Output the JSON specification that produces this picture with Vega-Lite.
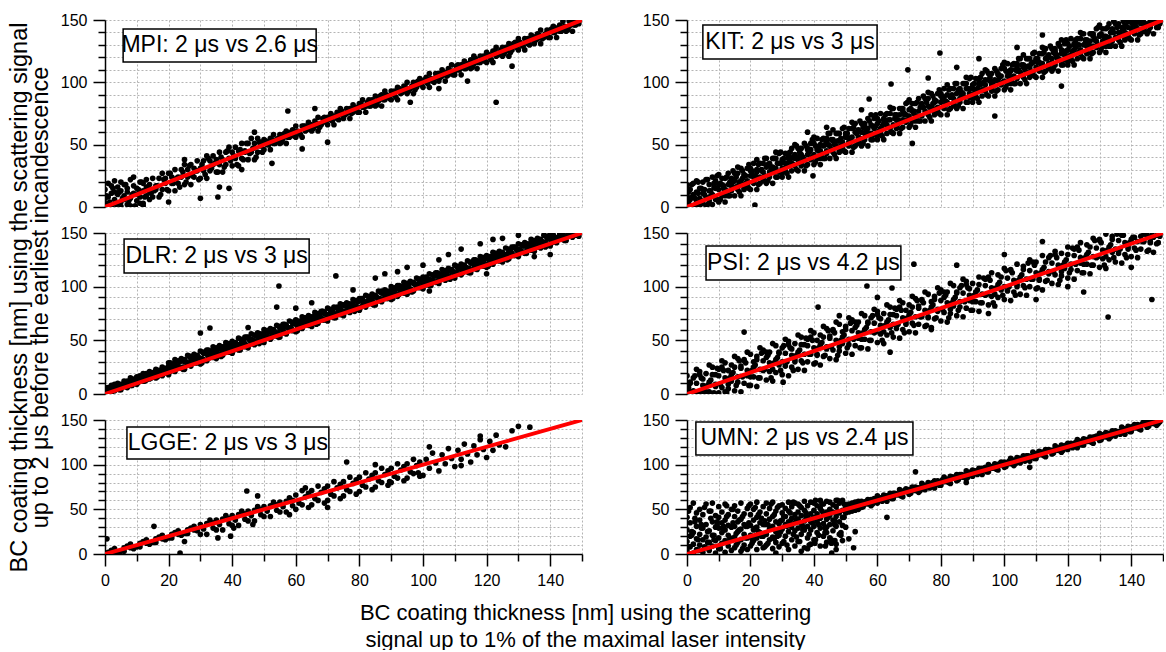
{
"$schema": "https://vega.github.io/schema/vega-lite/v6.json",
"padding": {"left": 7, "top": 12, "right": 0, "bottom": 0},
"columns": 2,
"spacing": {"row": 26, "column": 105},
"bounds": "flush",
"align": "each",
"datasets": {
"diag": [{"x":0,"y":0},{"x":150,"y":150}],
"mpi": [{"x":0,"y":3},{"x":0,"y":14},{"x":0,"y":7},{"x":1,"y":8},{"x":1,"y":19},{"x":1,"y":1},{"x":2,"y":1},{"x":2,"y":11},{"x":2,"y":17},{"x":3,"y":6},{"x":3,"y":21},{"x":3,"y":12},{"x":4,"y":10},{"x":4,"y":16},{"x":4,"y":3},{"x":5,"y":4},{"x":5,"y":13},{"x":5,"y":20},{"x":6,"y":9},{"x":6,"y":18},{"x":6,"y":6},{"x":7,"y":2},{"x":7,"y":12},{"x":7,"y":15},{"x":8,"y":7},{"x":8,"y":22},{"x":8,"y":1},{"x":9,"y":11},{"x":9,"y":17},{"x":9,"y":24},{"x":10,"y":5},{"x":10,"y":15},{"x":10,"y":10},{"x":11,"y":8},{"x":11,"y":20},{"x":11,"y":3},{"x":12,"y":3},{"x":12,"y":13},{"x":12,"y":19},{"x":13,"y":9},{"x":13,"y":22},{"x":13,"y":16},{"x":14,"y":12},{"x":14,"y":18},{"x":14,"y":6},
{"x":15,"y":8},{"x":15,"y":23},{"x":16,"y":14},{"x":16,"y":17},{"x":17,"y":8},{"x":17,"y":23},{"x":18,"y":14},{"x":18,"y":27},{"x":19,"y":19},{"x":19,"y":23},{"x":20,"y":13},{"x":20,"y":27},{"x":21,"y":19},{"x":21,"y":24},{"x":22,"y":13},{"x":22,"y":30},{"x":23,"y":19},{"x":23,"y":24},{"x":24,"y":24},{"x":24,"y":30},{"x":25,"y":18},{"x":25,"y":34},{"x":26,"y":24},{"x":26,"y":30},{"x":27,"y":18},{"x":27,"y":34},{"x":28,"y":24},{"x":28,"y":31},{"x":29,"y":29},{"x":29,"y":37},{"x":30,"y":23},{"x":30,"y":31},{"x":31,"y":29},{"x":31,"y":37},{"x":32,"y":23},{"x":32,"y":41},{"x":33,"y":29},{"x":33,"y":37},{"x":34,"y":34},{"x":34,"y":41},{"x":35,"y":28},{"x":35,"y":38},{"x":36,"y":34},{"x":36,"y":44},{"x":37,"y":28},{"x":37,"y":38},{"x":38,"y":34},{"x":38,"y":44},{"x":39,"y":39},{"x":39,"y":48},{"x":40,"y":33},{"x":40,"y":44},{"x":41,"y":39},{"x":41,"y":48},{"x":42,"y":33},{"x":42,"y":45},{"x":43,"y":39},{"x":43,"y":51},{"x":44,"y":44},{"x":44,"y":45},{"x":45,"y":38},{"x":45,"y":51},{"x":46,"y":44},{"x":46,"y":55},{"x":47,"y":38},{"x":47,"y":51},{"x":48,"y":44},{"x":48,"y":55},{"x":49,"y":49},{"x":49,"y":52},
{"x":50,"y":46},{"x":50,"y":54},{"x":51,"y":50},{"x":51,"y":52},{"x":52,"y":46},{"x":52,"y":55},{"x":53,"y":51},{"x":53,"y":58},{"x":54,"y":54},{"x":54,"y":53},{"x":55,"y":51},{"x":55,"y":58},{"x":56,"y":55},{"x":56,"y":58},{"x":57,"y":51},{"x":57,"y":61},{"x":58,"y":56},{"x":58,"y":59},{"x":59,"y":59},{"x":59,"y":62},{"x":60,"y":56},{"x":60,"y":65},{"x":61,"y":60},{"x":61,"y":60},{"x":62,"y":56},{"x":62,"y":65},{"x":63,"y":61},{"x":63,"y":65},{"x":64,"y":64},{"x":64,"y":68},{"x":65,"y":61},{"x":65,"y":66},{"x":66,"y":65},{"x":66,"y":69},{"x":67,"y":61},{"x":67,"y":72},{"x":68,"y":66},{"x":68,"y":67},{"x":69,"y":69},{"x":69,"y":72},{"x":70,"y":66},{"x":70,"y":72},{"x":71,"y":70},{"x":71,"y":75},{"x":72,"y":66},{"x":72,"y":73},{"x":73,"y":71},{"x":73,"y":76},{"x":74,"y":74},{"x":74,"y":79},{"x":75,"y":71},{"x":75,"y":74},{"x":76,"y":75},{"x":76,"y":79},{"x":77,"y":71},{"x":77,"y":79},{"x":78,"y":76},{"x":78,"y":82},{"x":79,"y":79},{"x":79,"y":80},{"x":80,"y":76},{"x":80,"y":83},{"x":81,"y":80},{"x":81,"y":86},{"x":82,"y":76},{"x":82,"y":81},{"x":83,"y":81},{"x":83,"y":86},{"x":84,"y":84},{"x":84,"y":86},{"x":85,"y":81},{"x":85,"y":89},{"x":86,"y":85},{"x":86,"y":87},{"x":87,"y":81},{"x":87,"y":90},{"x":88,"y":86},{"x":88,"y":93},{"x":89,"y":89},{"x":89,"y":88},{"x":90,"y":86},{"x":90,"y":93},{"x":91,"y":90},{"x":91,"y":93},{"x":92,"y":86},{"x":92,"y":96},{"x":93,"y":91},{"x":93,"y":94},{"x":94,"y":94},{"x":94,"y":97},{"x":95,"y":91},{"x":95,"y":100},{"x":96,"y":95},{"x":96,"y":95},{"x":97,"y":91},{"x":97,"y":100},{"x":98,"y":96},{"x":98,"y":100},{"x":99,"y":99},{"x":99,"y":103},
{"x":100,"y":96},{"x":100,"y":101},{"x":101,"y":100},{"x":101,"y":104},{"x":102,"y":96},{"x":102,"y":107},{"x":103,"y":101},{"x":103,"y":102},{"x":104,"y":104},{"x":104,"y":107},{"x":105,"y":101},{"x":105,"y":107},{"x":106,"y":105},{"x":106,"y":110},{"x":107,"y":101},{"x":107,"y":108},{"x":108,"y":106},{"x":108,"y":111},{"x":109,"y":109},{"x":109,"y":114},{"x":110,"y":106},{"x":110,"y":109},{"x":111,"y":110},{"x":111,"y":114},{"x":112,"y":106},{"x":112,"y":114},{"x":113,"y":111},{"x":113,"y":117},{"x":114,"y":114},{"x":114,"y":115},{"x":115,"y":111},{"x":115,"y":118},{"x":116,"y":115},{"x":116,"y":121},{"x":117,"y":111},{"x":117,"y":116},{"x":118,"y":116},{"x":118,"y":121},{"x":119,"y":119},{"x":119,"y":121},{"x":120,"y":116},{"x":120,"y":124},{"x":121,"y":120},{"x":121,"y":122},{"x":122,"y":116},{"x":122,"y":125},{"x":123,"y":121},{"x":123,"y":128},{"x":124,"y":124},{"x":124,"y":123},{"x":125,"y":121},{"x":125,"y":128},{"x":126,"y":125},{"x":126,"y":128},{"x":127,"y":121},{"x":127,"y":131},{"x":128,"y":126},{"x":128,"y":129},{"x":129,"y":129},{"x":129,"y":132},{"x":130,"y":126},{"x":130,"y":135},{"x":131,"y":130},{"x":131,"y":130},{"x":132,"y":126},{"x":132,"y":135},{"x":133,"y":131},{"x":133,"y":135},{"x":134,"y":134},{"x":134,"y":138},{"x":135,"y":131},{"x":135,"y":136},{"x":136,"y":135},{"x":136,"y":139},{"x":137,"y":131},{"x":137,"y":142},{"x":138,"y":136},{"x":138,"y":137},{"x":139,"y":139},{"x":139,"y":142},{"x":140,"y":136},{"x":140,"y":142},{"x":141,"y":140},{"x":141,"y":145},{"x":142,"y":136},{"x":142,"y":143},{"x":143,"y":141},{"x":143,"y":146},{"x":144,"y":144},{"x":144,"y":149},{"x":145,"y":141},{"x":145,"y":144},{"x":146,"y":145},{"x":146,"y":149},{"x":147,"y":141},{"x":147,"y":149},{"x":148,"y":146},{"x":148,"y":148},{"x":149,"y":149},{"x":149,"y":147},
{"x":30,"y":7},{"x":35.5,"y":8},{"x":36,"y":16},{"x":39,"y":15},{"x":43,"y":30},{"x":52.5,"y":35},{"x":57.5,"y":77},{"x":62,"y":46.6},{"x":70,"y":52},{"x":96,"y":84},{"x":114,"y":101},{"x":123,"y":84},{"x":128,"y":113},{"x":5,"y":0.5},{"x":12,"y":1},{"x":20,"y":4},{"x":25,"y":38},{"x":47,"y":60},{"x":66,"y":79},{"x":105,"y":95},
{"x":0.5,"y":9},{"x":1.5,"y":4},{"x":2.5,"y":15},{"x":3.5,"y":2},{"x":4.5,"y":12},{"x":5.5,"y":7},{"x":6.5,"y":18},{"x":7.5,"y":5},{"x":8.5,"y":10},{"x":9.5,"y":1},{"x":10.5,"y":14},{"x":11.5,"y":20},{"x":12.5,"y":8},{"x":13.5,"y":16},{"x":14.5,"y":11},{"x":15.5,"y":13},{"x":16.5,"y":17},{"x":17.5,"y":10},{"x":18.5,"y":22},{"x":19.5,"y":14},{"x":20.5,"y":27},{"x":21.5,"y":19},{"x":22.5,"y":23},{"x":23.5,"y":16},{"x":24.5,"y":28},{"x":25.5,"y":20},{"x":26.5,"y":33},{"x":27.5,"y":25},{"x":28.5,"y":29},{"x":29.5,"y":22},{"x":30.5,"y":34},{"x":31.5,"y":26},{"x":32.5,"y":39},{"x":33.5,"y":31},{"x":34.5,"y":35},{"x":35.5,"y":28},{"x":36.5,"y":40},{"x":37.5,"y":32},{"x":38.5,"y":45},{"x":39.5,"y":37},{"x":40.5,"y":41},{"x":41.5,"y":34},{"x":42.5,"y":46},{"x":43.5,"y":38},{"x":44.5,"y":51},{"x":45.5,"y":43},{"x":46.5,"y":47},{"x":47.5,"y":40},{"x":48.5,"y":52},{"x":49.5,"y":44},{"x":50.5,"y":53},{"x":51.5,"y":50},{"x":52.5,"y":54},{"x":53.5,"y":51},{"x":54.5,"y":55},{"x":55.5,"y":52},{"x":56.5,"y":59},{"x":57.5,"y":56},{"x":58.5,"y":60},{"x":59.5,"y":57},{"x":60.5,"y":61},{"x":61.5,"y":58},{"x":62.5,"y":65},{"x":63.5,"y":62},{"x":64.5,"y":66},{"x":65.5,"y":63},{"x":66.5,"y":67},{"x":67.5,"y":64},{"x":68.5,"y":71},{"x":69.5,"y":68},{"x":70.5,"y":72},{"x":71.5,"y":69},{"x":72.5,"y":73},{"x":73.5,"y":70},{"x":74.5,"y":77},{"x":75.5,"y":74},{"x":76.5,"y":78},{"x":77.5,"y":75},{"x":78.5,"y":79},{"x":79.5,"y":76},{"x":80.5,"y":83},{"x":81.5,"y":80},{"x":82.5,"y":84},{"x":83.5,"y":81},{"x":84.5,"y":85},{"x":85.5,"y":82},{"x":86.5,"y":89},{"x":87.5,"y":86},{"x":88.5,"y":90},{"x":89.5,"y":87},{"x":90.5,"y":91},{"x":91.5,"y":88},{"x":92.5,"y":95},{"x":93.5,"y":92},{"x":94.5,"y":96},{"x":95.5,"y":93},{"x":96.5,"y":97},{"x":97.5,"y":94},{"x":98.5,"y":101},{"x":99.5,"y":98},{"x":100.5,"y":102},{"x":101.5,"y":99},{"x":102.5,"y":103},{"x":103.5,"y":100},{"x":104.5,"y":107},{"x":105.5,"y":104},{"x":106.5,"y":108},{"x":107.5,"y":105},{"x":108.5,"y":109},{"x":109.5,"y":106},{"x":110.5,"y":113},{"x":111.5,"y":110},{"x":112.5,"y":114},{"x":113.5,"y":111},{"x":114.5,"y":115},{"x":115.5,"y":112},{"x":116.5,"y":119},{"x":117.5,"y":116},{"x":118.5,"y":120},{"x":119.5,"y":117},{"x":120.5,"y":121},{"x":121.5,"y":118},{"x":122.5,"y":125},{"x":123.5,"y":122},{"x":124.5,"y":126},{"x":125.5,"y":123},{"x":126.5,"y":127},{"x":127.5,"y":124},{"x":128.5,"y":131},{"x":129.5,"y":128},{"x":130.5,"y":132},{"x":131.5,"y":129},{"x":132.5,"y":133},{"x":133.5,"y":130},{"x":134.5,"y":137},{"x":135.5,"y":134},{"x":136.5,"y":138},{"x":137.5,"y":135},{"x":138.5,"y":139},{"x":139.5,"y":136},{"x":140.5,"y":143},{"x":141.5,"y":140},{"x":142.5,"y":144},{"x":143.5,"y":141},{"x":144.5,"y":145},{"x":145.5,"y":142},{"x":146.5,"y":149},{"x":147.5,"y":146},{"x":148.5,"y":149}],
"kit": [{"x":0,"y":2},{"x":0,"y":9},{"x":0,"y":17},{"x":1,"y":0.5},{"x":1,"y":6},{"x":1,"y":14},{"x":2,"y":1},{"x":2,"y":10},{"x":2,"y":19},{"x":3,"y":4},{"x":3,"y":12},{"x":3,"y":21},{"x":4,"y":0.5},{"x":4,"y":7},{"x":4,"y":15},{"x":5,"y":3},{"x":5,"y":11},{"x":5,"y":20},{"x":6,"y":1},{"x":6,"y":8},{"x":6,"y":22},{"x":7,"y":5},{"x":7,"y":13},{"x":7,"y":18},{"x":8,"y":2},{"x":8,"y":10},{"x":8,"y":24},{"x":9,"y":6},{"x":9,"y":15},{"x":9,"y":21},
{"x":10,"y":4},{"x":10,"y":14},{"x":10,"y":18},{"x":10,"y":26},{"x":11,"y":9},{"x":11,"y":18},{"x":11,"y":23},{"x":12,"y":4},{"x":12,"y":14},{"x":12,"y":23},{"x":12,"y":9},{"x":13,"y":9},{"x":13,"y":18},{"x":13,"y":27},{"x":14,"y":13},{"x":14,"y":17},{"x":14,"y":22},{"x":14,"y":23},{"x":15,"y":9},{"x":15,"y":21},{"x":15,"y":27},{"x":16,"y":14},{"x":16,"y":17},{"x":16,"y":27},{"x":16,"y":32},{"x":17,"y":9},{"x":17,"y":21},{"x":17,"y":31},{"x":18,"y":14},{"x":18,"y":25},{"x":18,"y":26},{"x":18,"y":15},{"x":19,"y":18},{"x":19,"y":21},{"x":19,"y":31},{"x":20,"y":14},{"x":20,"y":25},{"x":20,"y":31},{"x":20,"y":29},{"x":21,"y":19},{"x":21,"y":24},{"x":21,"y":35},{"x":22,"y":14},{"x":22,"y":28},{"x":22,"y":30},{"x":22,"y":38},{"x":23,"y":19},{"x":23,"y":24},{"x":23,"y":35},{"x":24,"y":23},{"x":24,"y":28},{"x":24,"y":35},{"x":24,"y":21},{"x":25,"y":19},{"x":25,"y":32},{"x":25,"y":39},{"x":26,"y":24},{"x":26,"y":28},{"x":26,"y":34},{"x":26,"y":35},{"x":27,"y":19},{"x":27,"y":32},{"x":27,"y":39},{"x":28,"y":24},{"x":28,"y":31},{"x":28,"y":39},{"x":28,"y":44},{"x":29,"y":28},{"x":29,"y":35},{"x":29,"y":43},{"x":30,"y":24},{"x":30,"y":31},{"x":30,"y":38},{"x":30,"y":27},{"x":31,"y":29},{"x":31,"y":35},{"x":31,"y":43},{"x":32,"y":24},{"x":32,"y":39},{"x":32,"y":43},{"x":32,"y":41},{"x":33,"y":29},{"x":33,"y":35},{"x":33,"y":47},{"x":34,"y":33},{"x":34,"y":39},{"x":34,"y":42},{"x":34,"y":50},{"x":35,"y":29},{"x":35,"y":38},{"x":35,"y":47},{"x":36,"y":34},{"x":36,"y":42},{"x":36,"y":47},{"x":36,"y":33},{"x":37,"y":29},{"x":37,"y":38},{"x":37,"y":51},{"x":38,"y":34},{"x":38,"y":42},{"x":38,"y":46},{"x":38,"y":47},{"x":39,"y":38},{"x":39,"y":46},{"x":39,"y":51},
{"x":40,"y":34},{"x":40,"y":42},{"x":40,"y":51},{"x":40,"y":56},{"x":41,"y":39},{"x":41,"y":46},{"x":41,"y":55},{"x":42,"y":34},{"x":42,"y":45},{"x":42,"y":50},{"x":42,"y":39},{"x":43,"y":39},{"x":43,"y":49},{"x":43,"y":55},{"x":44,"y":43},{"x":44,"y":45},{"x":44,"y":55},{"x":44,"y":53},{"x":45,"y":39},{"x":45,"y":49},{"x":45,"y":59},{"x":46,"y":44},{"x":46,"y":53},{"x":46,"y":54},{"x":46,"y":62},{"x":47,"y":39},{"x":47,"y":49},{"x":47,"y":59},{"x":48,"y":44},{"x":48,"y":53},{"x":48,"y":59},{"x":48,"y":45},{"x":49,"y":48},{"x":49,"y":52},{"x":49,"y":63},{"x":50,"y":44},{"x":50,"y":56},{"x":50,"y":58},{"x":50,"y":59},{"x":51,"y":49},{"x":51,"y":52},{"x":51,"y":63},{"x":52,"y":44},{"x":52,"y":56},{"x":52,"y":63},{"x":52,"y":68},{"x":53,"y":49},{"x":53,"y":60},{"x":53,"y":67},{"x":54,"y":53},{"x":54,"y":56},{"x":54,"y":62},{"x":54,"y":51},{"x":55,"y":49},{"x":55,"y":60},{"x":55,"y":67},{"x":56,"y":54},{"x":56,"y":59},{"x":56,"y":67},{"x":56,"y":65},{"x":57,"y":49},{"x":57,"y":63},{"x":57,"y":71},{"x":58,"y":54},{"x":58,"y":59},{"x":58,"y":66},{"x":58,"y":74},{"x":59,"y":58},{"x":59,"y":63},{"x":59,"y":71},{"x":60,"y":54},{"x":60,"y":67},{"x":60,"y":71},{"x":60,"y":57},{"x":61,"y":59},{"x":61,"y":63},{"x":61,"y":75},{"x":62,"y":54},{"x":62,"y":67},{"x":62,"y":70},{"x":62,"y":71},{"x":63,"y":59},{"x":63,"y":66},{"x":63,"y":75},{"x":64,"y":63},{"x":64,"y":70},{"x":64,"y":75},{"x":64,"y":80},{"x":65,"y":59},{"x":65,"y":66},{"x":65,"y":79},{"x":66,"y":64},{"x":66,"y":70},{"x":66,"y":74},{"x":66,"y":63},{"x":67,"y":59},{"x":67,"y":74},{"x":67,"y":79},{"x":68,"y":64},{"x":68,"y":70},{"x":68,"y":79},{"x":68,"y":77},{"x":69,"y":68},{"x":69,"y":74},{"x":69,"y":83},{"x":70,"y":64},{"x":70,"y":73},{"x":70,"y":78},{"x":70,"y":86},{"x":71,"y":69},{"x":71,"y":77},{"x":71,"y":83},{"x":72,"y":64},{"x":72,"y":73},{"x":72,"y":83},{"x":72,"y":69},{"x":73,"y":69},{"x":73,"y":77},{"x":73,"y":87},{"x":74,"y":73},{"x":74,"y":81},{"x":74,"y":82},{"x":74,"y":83},{"x":75,"y":69},{"x":75,"y":77},{"x":75,"y":87},{"x":76,"y":74},{"x":76,"y":81},{"x":76,"y":87},{"x":76,"y":92},{"x":77,"y":69},{"x":77,"y":80},{"x":77,"y":91},{"x":78,"y":74},{"x":78,"y":84},{"x":78,"y":86},{"x":78,"y":75},{"x":79,"y":78},{"x":79,"y":80},{"x":79,"y":91},
{"x":80,"y":74},{"x":80,"y":84},{"x":80,"y":91},{"x":80,"y":89},{"x":81,"y":79},{"x":81,"y":88},{"x":81,"y":95},{"x":82,"y":74},{"x":82,"y":84},{"x":82,"y":90},{"x":82,"y":98},{"x":83,"y":79},{"x":83,"y":88},{"x":83,"y":95},{"x":84,"y":83},{"x":84,"y":87},{"x":84,"y":95},{"x":84,"y":81},{"x":85,"y":79},{"x":85,"y":91},{"x":85,"y":99},{"x":86,"y":84},{"x":86,"y":87},{"x":86,"y":94},{"x":86,"y":95},{"x":87,"y":79},{"x":87,"y":91},{"x":87,"y":99},{"x":88,"y":84},{"x":88,"y":95},{"x":88,"y":99},{"x":88,"y":104},{"x":89,"y":88},{"x":89,"y":91},{"x":89,"y":103},{"x":90,"y":84},{"x":90,"y":95},{"x":90,"y":98},{"x":90,"y":87},{"x":91,"y":89},{"x":91,"y":94},{"x":91,"y":103},{"x":92,"y":84},{"x":92,"y":98},{"x":92,"y":103},{"x":92,"y":101},{"x":93,"y":89},{"x":93,"y":94},{"x":93,"y":107},{"x":94,"y":93},{"x":94,"y":98},{"x":94,"y":102},{"x":94,"y":110},{"x":95,"y":89},{"x":95,"y":102},{"x":95,"y":107},{"x":96,"y":94},{"x":96,"y":98},{"x":96,"y":107},{"x":96,"y":93},{"x":97,"y":89},{"x":97,"y":102},{"x":97,"y":111},{"x":98,"y":94},{"x":98,"y":101},{"x":98,"y":106},{"x":98,"y":107},{"x":99,"y":98},{"x":99,"y":105},{"x":99,"y":111},{"x":100,"y":94},{"x":100,"y":101},{"x":100,"y":111},{"x":100,"y":116},{"x":101,"y":99},{"x":101,"y":105},{"x":101,"y":115},{"x":102,"y":94},{"x":102,"y":109},{"x":102,"y":110},{"x":102,"y":99},{"x":103,"y":99},{"x":103,"y":105},{"x":103,"y":115},{"x":104,"y":103},{"x":104,"y":109},{"x":104,"y":115},{"x":104,"y":113},{"x":105,"y":99},{"x":105,"y":108},{"x":105,"y":119},{"x":106,"y":104},{"x":106,"y":112},{"x":106,"y":114},{"x":106,"y":122},{"x":107,"y":99},{"x":107,"y":108},{"x":107,"y":119},{"x":108,"y":104},{"x":108,"y":112},{"x":108,"y":119},{"x":108,"y":105},{"x":109,"y":108},{"x":109,"y":116},{"x":109,"y":123},{"x":110,"y":104},{"x":110,"y":112},{"x":110,"y":118},{"x":110,"y":119},{"x":111,"y":109},{"x":111,"y":116},{"x":111,"y":123},{"x":112,"y":104},{"x":112,"y":115},{"x":112,"y":123},{"x":112,"y":128},{"x":113,"y":109},{"x":113,"y":119},{"x":113,"y":127},{"x":114,"y":113},{"x":114,"y":115},{"x":114,"y":122},{"x":114,"y":111},{"x":115,"y":109},{"x":115,"y":119},{"x":115,"y":127},{"x":116,"y":114},{"x":116,"y":123},{"x":116,"y":127},{"x":116,"y":125},{"x":117,"y":109},{"x":117,"y":119},{"x":117,"y":131},{"x":118,"y":114},{"x":118,"y":123},{"x":118,"y":126},{"x":118,"y":134},{"x":119,"y":118},{"x":119,"y":122},{"x":119,"y":131},
{"x":120,"y":114},{"x":120,"y":126},{"x":120,"y":131},{"x":120,"y":117},{"x":121,"y":119},{"x":121,"y":122},{"x":121,"y":135},{"x":122,"y":114},{"x":122,"y":126},{"x":122,"y":130},{"x":122,"y":131},{"x":123,"y":119},{"x":123,"y":130},{"x":123,"y":135},{"x":124,"y":123},{"x":124,"y":126},{"x":124,"y":135},{"x":124,"y":140},{"x":125,"y":119},{"x":125,"y":130},{"x":125,"y":139},{"x":126,"y":124},{"x":126,"y":129},{"x":126,"y":134},{"x":126,"y":123},{"x":127,"y":119},{"x":127,"y":133},{"x":127,"y":139},{"x":128,"y":124},{"x":128,"y":129},{"x":128,"y":139},{"x":128,"y":137},{"x":129,"y":128},{"x":129,"y":133},{"x":129,"y":143},{"x":130,"y":124},{"x":130,"y":137},{"x":130,"y":138},{"x":130,"y":146},{"x":131,"y":129},{"x":131,"y":133},{"x":131,"y":143},{"x":132,"y":124},{"x":132,"y":137},{"x":132,"y":143},{"x":132,"y":129},{"x":133,"y":129},{"x":133,"y":136},{"x":133,"y":147},{"x":134,"y":133},{"x":134,"y":140},{"x":134,"y":142},{"x":134,"y":143},{"x":135,"y":129},{"x":135,"y":136},{"x":135,"y":147},{"x":136,"y":134},{"x":136,"y":140},{"x":136,"y":147},{"x":137,"y":129},{"x":137,"y":144},{"x":138,"y":134},{"x":138,"y":140},{"x":138,"y":146},{"x":138,"y":135},{"x":139,"y":138},{"x":139,"y":144},{"x":139,"y":149},{"x":140,"y":134},{"x":140,"y":143},{"x":140,"y":148},{"x":140,"y":149},{"x":141,"y":139},{"x":141,"y":147},{"x":142,"y":134},{"x":142,"y":143},{"x":142,"y":149},{"x":143,"y":139},{"x":143,"y":147},{"x":144,"y":143},{"x":144,"y":148},{"x":144,"y":141},{"x":145,"y":139},{"x":145,"y":147},{"x":146,"y":144},{"x":146,"y":149},{"x":147,"y":139},{"x":147,"y":148},{"x":148,"y":144},{"x":148,"y":149},{"x":149,"y":148},{"x":149,"y":147},
{"x":21.4,"y":1.6},{"x":57.4,"y":86.6},{"x":64.3,"y":98.7},{"x":69.6,"y":110},{"x":71,"y":51},{"x":76,"y":103.5},{"x":79.7,"y":123.5},{"x":39.7,"y":25},{"x":0,"y":17.7},{"x":38,"y":60},{"x":44,"y":64},{"x":55,"y":78},{"x":85,"y":112},{"x":92,"y":119},{"x":97,"y":73},{"x":104,"y":128},{"x":112,"y":138},{"x":118,"y":97},
{"x":0.5,"y":3},{"x":0.5,"y":12},{"x":1.5,"y":8},{"x":1.5,"y":18},{"x":2.5,"y":1},{"x":2.5,"y":7},{"x":3.5,"y":11},{"x":3.5,"y":20},{"x":4.5,"y":5},{"x":4.5,"y":15},{"x":5.5,"y":14},{"x":5.5,"y":10},{"x":6.5,"y":2},{"x":6.5,"y":22},{"x":7.5,"y":9},{"x":7.5,"y":13},{"x":8.5,"y":16},{"x":8.5,"y":19},{"x":9.5,"y":6},{"x":9.5,"y":25},{"x":10.5,"y":6},{"x":10.5,"y":19},{"x":11.5,"y":17},{"x":11.5,"y":15},{"x":12.5,"y":13},{"x":12.5,"y":24},{"x":13.5,"y":9},{"x":13.5,"y":20},{"x":14.5,"y":20},{"x":14.5,"y":29},{"x":15.5,"y":16},{"x":15.5,"y":24},{"x":16.5,"y":12},{"x":16.5,"y":20},{"x":17.5,"y":23},{"x":17.5,"y":29},{"x":18.5,"y":19},{"x":18.5,"y":25},{"x":19.5,"y":15},{"x":19.5,"y":34},{"x":20.5,"y":26},{"x":20.5,"y":29},{"x":21.5,"y":22},{"x":21.5,"y":25},{"x":22.5,"y":18},{"x":22.5,"y":34},{"x":23.5,"y":29},{"x":23.5,"y":30},{"x":24.5,"y":25},{"x":24.5,"y":39},{"x":25.5,"y":21},{"x":25.5,"y":34},{"x":26.5,"y":32},{"x":26.5,"y":30},{"x":27.5,"y":28},{"x":27.5,"y":39},{"x":28.5,"y":24},{"x":28.5,"y":35},{"x":29.5,"y":35},{"x":29.5,"y":44},{"x":30.5,"y":31},{"x":30.5,"y":39},{"x":31.5,"y":27},{"x":31.5,"y":35},{"x":32.5,"y":38},{"x":32.5,"y":44},{"x":33.5,"y":34},{"x":33.5,"y":40},{"x":34.5,"y":30},{"x":34.5,"y":49},{"x":35.5,"y":41},{"x":35.5,"y":44},{"x":36.5,"y":37},{"x":36.5,"y":40},{"x":37.5,"y":33},{"x":37.5,"y":49},{"x":38.5,"y":44},{"x":38.5,"y":45},{"x":39.5,"y":40},{"x":39.5,"y":54},{"x":40.5,"y":36},{"x":40.5,"y":49},{"x":41.5,"y":47},{"x":41.5,"y":45},{"x":42.5,"y":43},{"x":42.5,"y":54},{"x":43.5,"y":39},{"x":43.5,"y":50},{"x":44.5,"y":50},{"x":44.5,"y":59},{"x":45.5,"y":46},{"x":45.5,"y":54},{"x":46.5,"y":42},{"x":46.5,"y":50},{"x":47.5,"y":53},{"x":47.5,"y":59},{"x":48.5,"y":49},{"x":48.5,"y":55},{"x":49.5,"y":45},{"x":49.5,"y":64},{"x":50.5,"y":56},{"x":50.5,"y":59},{"x":51.5,"y":52},{"x":51.5,"y":55},{"x":52.5,"y":48},{"x":52.5,"y":64},{"x":53.5,"y":59},{"x":53.5,"y":60},{"x":54.5,"y":55},{"x":54.5,"y":69},{"x":55.5,"y":51},{"x":55.5,"y":64},{"x":56.5,"y":62},{"x":56.5,"y":60},{"x":57.5,"y":58},{"x":57.5,"y":69},{"x":58.5,"y":54},{"x":58.5,"y":65},{"x":59.5,"y":65},{"x":59.5,"y":74},{"x":60.5,"y":61},{"x":60.5,"y":69},{"x":61.5,"y":57},{"x":61.5,"y":65},{"x":62.5,"y":68},{"x":62.5,"y":74},{"x":63.5,"y":64},{"x":63.5,"y":70},{"x":64.5,"y":60},{"x":64.5,"y":79},{"x":65.5,"y":71},{"x":65.5,"y":74},{"x":66.5,"y":67},{"x":66.5,"y":70},{"x":67.5,"y":63},{"x":67.5,"y":79},{"x":68.5,"y":74},{"x":68.5,"y":75},{"x":69.5,"y":70},{"x":69.5,"y":84},{"x":70.5,"y":66},{"x":70.5,"y":79},{"x":71.5,"y":77},{"x":71.5,"y":75},{"x":72.5,"y":73},{"x":72.5,"y":84},{"x":73.5,"y":69},{"x":73.5,"y":80},{"x":74.5,"y":80},{"x":74.5,"y":89},{"x":75.5,"y":76},{"x":75.5,"y":84},{"x":76.5,"y":72},{"x":76.5,"y":80},{"x":77.5,"y":83},{"x":77.5,"y":89},{"x":78.5,"y":79},{"x":78.5,"y":85},{"x":79.5,"y":75},{"x":79.5,"y":94},{"x":80.5,"y":86},{"x":80.5,"y":89},{"x":81.5,"y":82},{"x":81.5,"y":85},{"x":82.5,"y":78},{"x":82.5,"y":94},{"x":83.5,"y":89},{"x":83.5,"y":90},{"x":84.5,"y":85},{"x":84.5,"y":99},{"x":85.5,"y":81},{"x":85.5,"y":94},{"x":86.5,"y":92},{"x":86.5,"y":90},{"x":87.5,"y":88},{"x":87.5,"y":99},{"x":88.5,"y":84},{"x":88.5,"y":95},{"x":89.5,"y":95},{"x":89.5,"y":104},{"x":90.5,"y":91},{"x":90.5,"y":99},{"x":91.5,"y":87},{"x":91.5,"y":95},{"x":92.5,"y":98},{"x":92.5,"y":104},{"x":93.5,"y":94},{"x":93.5,"y":100},{"x":94.5,"y":90},{"x":94.5,"y":109},{"x":95.5,"y":101},{"x":95.5,"y":104},{"x":96.5,"y":97},{"x":96.5,"y":100},{"x":97.5,"y":93},{"x":97.5,"y":109},{"x":98.5,"y":104},{"x":98.5,"y":105},{"x":99.5,"y":100},{"x":99.5,"y":114},{"x":100.5,"y":96},{"x":100.5,"y":109},{"x":101.5,"y":107},{"x":101.5,"y":105},{"x":102.5,"y":103},{"x":102.5,"y":114},{"x":103.5,"y":99},{"x":103.5,"y":110},{"x":104.5,"y":110},{"x":104.5,"y":119},{"x":105.5,"y":106},{"x":105.5,"y":114},{"x":106.5,"y":102},{"x":106.5,"y":110},{"x":107.5,"y":113},{"x":107.5,"y":119},{"x":108.5,"y":109},{"x":108.5,"y":115},{"x":109.5,"y":105},{"x":109.5,"y":124},{"x":110.5,"y":116},{"x":110.5,"y":119},{"x":111.5,"y":112},{"x":111.5,"y":115},{"x":112.5,"y":108},{"x":112.5,"y":124},{"x":113.5,"y":119},{"x":113.5,"y":120},{"x":114.5,"y":115},{"x":114.5,"y":129},{"x":115.5,"y":111},{"x":115.5,"y":124},{"x":116.5,"y":122},{"x":116.5,"y":120},{"x":117.5,"y":118},{"x":117.5,"y":129},{"x":118.5,"y":114},{"x":118.5,"y":125},{"x":119.5,"y":125},{"x":119.5,"y":134},{"x":120.5,"y":121},{"x":120.5,"y":129},{"x":121.5,"y":117},{"x":121.5,"y":125},{"x":122.5,"y":128},{"x":122.5,"y":134},{"x":123.5,"y":124},{"x":123.5,"y":130},{"x":124.5,"y":120},{"x":124.5,"y":139},{"x":125.5,"y":131},{"x":125.5,"y":134},{"x":126.5,"y":127},{"x":126.5,"y":130},{"x":127.5,"y":123},{"x":127.5,"y":139},{"x":128.5,"y":134},{"x":128.5,"y":135},{"x":129.5,"y":130},{"x":129.5,"y":144},{"x":130.5,"y":126},{"x":130.5,"y":139},{"x":131.5,"y":137},{"x":131.5,"y":135},{"x":132.5,"y":133},{"x":132.5,"y":144},{"x":133.5,"y":129},{"x":133.5,"y":140},{"x":134.5,"y":140},{"x":134.5,"y":149},{"x":135.5,"y":136},{"x":135.5,"y":144},{"x":136.5,"y":132},{"x":136.5,"y":140},{"x":137.5,"y":143},{"x":137.5,"y":149},{"x":138.5,"y":139},{"x":138.5,"y":145},{"x":139.5,"y":135},{"x":140.5,"y":146},{"x":140.5,"y":149},{"x":141.5,"y":142},{"x":141.5,"y":145},{"x":142.5,"y":138},{"x":143.5,"y":149},{"x":144.5,"y":145},{"x":145.5,"y":141},{"x":146.5,"y":148},{"x":146.5,"y":149},{"x":147.5,"y":148},{"x":148.5,"y":144}],
"dlr": [{"x":0,"y":0.5},{"x":0,"y":3},{"x":0,"y":6},{"x":1,"y":2},{"x":1,"y":6},{"x":2,"y":1},{"x":2,"y":6},{"x":2,"y":8},{"x":3,"y":3},{"x":3,"y":9},{"x":4,"y":5},{"x":4,"y":8},{"x":4,"y":10},{"x":5,"y":4},{"x":5,"y":9},{"x":6,"y":7},{"x":6,"y":10},{"x":6,"y":12},{"x":7,"y":6},{"x":7,"y":12},{"x":8,"y":8},{"x":8,"y":12},{"x":8,"y":15},{"x":9,"y":10},{"x":9,"y":14},{"x":10,"y":9},{"x":10,"y":13},{"x":10,"y":16},{"x":11,"y":12},{"x":11,"y":17},{"x":12,"y":12},{"x":12,"y":15},{"x":12,"y":19},{"x":13,"y":13},{"x":13,"y":19},{"x":14,"y":14},{"x":14,"y":18},{"x":14,"y":21},{"x":15,"y":16},{"x":15,"y":20},{"x":16,"y":15},{"x":16,"y":21},{"x":16,"y":23},{"x":17,"y":18},{"x":17,"y":22},{"x":18,"y":17},{"x":18,"y":22},{"x":18,"y":25},{"x":19,"y":20},{"x":19,"y":24},
{"x":20,"y":18},{"x":20,"y":26},{"x":20,"y":29},{"x":21,"y":22},{"x":21,"y":25},{"x":21,"y":28},{"x":22,"y":21},{"x":22,"y":28},{"x":22,"y":32},{"x":23,"y":25},{"x":23,"y":26},{"x":23,"y":31},{"x":24,"y":24},{"x":24,"y":31},{"x":24,"y":33},{"x":25,"y":23},{"x":25,"y":30},{"x":25,"y":32},{"x":26,"y":27},{"x":26,"y":28},{"x":26,"y":36},{"x":27,"y":26},{"x":27,"y":33},{"x":27,"y":35},{"x":28,"y":30},{"x":28,"y":32},{"x":28,"y":37},{"x":29,"y":29},{"x":29,"y":35},{"x":29,"y":36},{"x":30,"y":28},{"x":30,"y":33},{"x":30,"y":40},{"x":31,"y":32},{"x":31,"y":38},{"x":31,"y":39},{"x":32,"y":31},{"x":32,"y":37},{"x":32,"y":41},{"x":33,"y":35},{"x":33,"y":36},{"x":33,"y":40},{"x":34,"y":34},{"x":34,"y":40},{"x":34,"y":44},{"x":35,"y":33},{"x":35,"y":39},{"x":35,"y":43},{"x":36,"y":37},{"x":36,"y":42},{"x":36,"y":45},{"x":37,"y":36},{"x":37,"y":40},{"x":37,"y":44},{"x":38,"y":40},{"x":38,"y":45},{"x":38,"y":48},{"x":39,"y":39},{"x":39,"y":44},{"x":39,"y":47},{"x":40,"y":38},{"x":40,"y":42},{"x":40,"y":49},{"x":41,"y":42},{"x":41,"y":47},{"x":41,"y":48},{"x":42,"y":41},{"x":42,"y":46},{"x":42,"y":52},{"x":43,"y":45},{"x":43,"y":49},{"x":43,"y":51},{"x":44,"y":44},{"x":44,"y":47},{"x":44,"y":53},{"x":45,"y":43},{"x":45,"y":52},{"x":45,"y":53},{"x":46,"y":47},{"x":46,"y":51},{"x":46,"y":56},{"x":47,"y":46},{"x":47,"y":49},{"x":47,"y":55},{"x":48,"y":50},{"x":48,"y":54},{"x":48,"y":57},{"x":49,"y":49},{"x":49,"y":53},{"x":49,"y":56},
{"x":50,"y":48},{"x":50,"y":56},{"x":50,"y":60},{"x":51,"y":52},{"x":51,"y":54},{"x":51,"y":59},{"x":52,"y":51},{"x":52,"y":59},{"x":52,"y":61},{"x":53,"y":55},{"x":53,"y":58},{"x":53,"y":60},{"x":54,"y":54},{"x":54,"y":56},{"x":54,"y":64},{"x":55,"y":53},{"x":55,"y":61},{"x":55,"y":63},{"x":56,"y":57},{"x":56,"y":60},{"x":56,"y":65},{"x":57,"y":56},{"x":57,"y":63},{"x":57,"y":64},{"x":58,"y":60},{"x":58,"y":61},{"x":58,"y":68},{"x":59,"y":59},{"x":59,"y":66},{"x":59,"y":67},{"x":60,"y":58},{"x":60,"y":65},{"x":60,"y":69},{"x":61,"y":62},{"x":61,"y":63},{"x":61,"y":68},{"x":62,"y":61},{"x":62,"y":68},{"x":62,"y":72},{"x":63,"y":65},{"x":63,"y":67},{"x":63,"y":71},{"x":64,"y":64},{"x":64,"y":70},{"x":64,"y":73},{"x":65,"y":63},{"x":65,"y":68},{"x":65,"y":72},{"x":66,"y":67},{"x":66,"y":73},{"x":66,"y":76},{"x":67,"y":66},{"x":67,"y":72},{"x":67,"y":75},{"x":68,"y":70},{"x":68,"y":71},{"x":68,"y":77},{"x":69,"y":69},{"x":69,"y":75},{"x":69,"y":76},{"x":70,"y":68},{"x":70,"y":74},{"x":70,"y":80},{"x":71,"y":72},{"x":71,"y":77},{"x":71,"y":79},{"x":72,"y":71},{"x":72,"y":75},{"x":72,"y":81},{"x":73,"y":75},{"x":73,"y":80},{"x":73,"y":81},{"x":74,"y":74},{"x":74,"y":79},{"x":74,"y":84},{"x":75,"y":73},{"x":75,"y":77},{"x":75,"y":83},{"x":76,"y":77},{"x":76,"y":82},{"x":76,"y":85},{"x":77,"y":76},{"x":77,"y":81},{"x":77,"y":84},{"x":78,"y":80},{"x":78,"y":84},{"x":78,"y":88},{"x":79,"y":79},{"x":79,"y":82},{"x":79,"y":87},{"x":80,"y":78},{"x":80,"y":87},{"x":80,"y":89},{"x":81,"y":82},{"x":81,"y":86},{"x":81,"y":89},{"x":82,"y":81},{"x":82,"y":84},{"x":82,"y":92},{"x":83,"y":85},{"x":83,"y":89},{"x":83,"y":91},{"x":84,"y":84},{"x":84,"y":88},{"x":84,"y":93},{"x":85,"y":83},{"x":85,"y":91},{"x":85,"y":92},{"x":86,"y":87},{"x":86,"y":89},{"x":86,"y":96},{"x":87,"y":86},{"x":87,"y":94},{"x":87,"y":96},{"x":88,"y":90},{"x":88,"y":93},{"x":88,"y":97},{"x":89,"y":89},{"x":89,"y":91},{"x":89,"y":96},{"x":90,"y":88},{"x":90,"y":96},{"x":90,"y":100},{"x":91,"y":92},{"x":91,"y":95},{"x":91,"y":99},{"x":92,"y":91},{"x":92,"y":98},{"x":92,"y":101},{"x":93,"y":95},{"x":93,"y":96},{"x":93,"y":100},{"x":94,"y":94},{"x":94,"y":101},{"x":94,"y":104},{"x":95,"y":93},{"x":95,"y":100},{"x":95,"y":103},{"x":96,"y":97},{"x":96,"y":98},{"x":96,"y":105},{"x":97,"y":96},{"x":97,"y":103},{"x":97,"y":104},{"x":98,"y":100},{"x":98,"y":102},{"x":98,"y":108},{"x":99,"y":99},{"x":99,"y":105},{"x":99,"y":107},
{"x":100,"y":98},{"x":100,"y":103},{"x":100,"y":109},{"x":101,"y":102},{"x":101,"y":108},{"x":101,"y":109},{"x":102,"y":101},{"x":102,"y":107},{"x":102,"y":112},{"x":103,"y":105},{"x":103,"y":106},{"x":103,"y":111},{"x":104,"y":104},{"x":104,"y":110},{"x":104,"y":113},{"x":105,"y":103},{"x":105,"y":109},{"x":105,"y":112},{"x":106,"y":107},{"x":106,"y":112},{"x":106,"y":116},{"x":107,"y":106},{"x":107,"y":110},{"x":107,"y":115},{"x":108,"y":110},{"x":108,"y":115},{"x":108,"y":117},{"x":109,"y":109},{"x":109,"y":114},{"x":109,"y":116},{"x":110,"y":108},{"x":110,"y":112},{"x":110,"y":120},{"x":111,"y":112},{"x":111,"y":117},{"x":111,"y":119},{"x":112,"y":111},{"x":112,"y":116},{"x":112,"y":121},{"x":113,"y":115},{"x":113,"y":119},{"x":113,"y":120},{"x":114,"y":114},{"x":114,"y":117},{"x":114,"y":124},{"x":115,"y":113},{"x":115,"y":122},{"x":115,"y":123},{"x":116,"y":117},{"x":116,"y":121},{"x":116,"y":125},{"x":117,"y":116},{"x":117,"y":119},{"x":117,"y":124},{"x":118,"y":120},{"x":118,"y":124},{"x":118,"y":128},{"x":119,"y":119},{"x":119,"y":123},{"x":119,"y":127},{"x":120,"y":118},{"x":120,"y":126},{"x":120,"y":129},{"x":121,"y":122},{"x":121,"y":124},{"x":121,"y":128},{"x":122,"y":121},{"x":122,"y":129},{"x":122,"y":132},{"x":123,"y":125},{"x":123,"y":128},{"x":123,"y":131},{"x":124,"y":124},{"x":124,"y":126},{"x":124,"y":133},{"x":125,"y":123},{"x":125,"y":131},{"x":125,"y":132},{"x":126,"y":127},{"x":126,"y":130},{"x":126,"y":136},{"x":127,"y":126},{"x":127,"y":133},{"x":127,"y":135},{"x":128,"y":130},{"x":128,"y":131},{"x":128,"y":137},{"x":129,"y":129},{"x":129,"y":136},{"x":129,"y":137},{"x":130,"y":128},{"x":130,"y":135},{"x":130,"y":140},{"x":131,"y":132},{"x":131,"y":133},{"x":131,"y":139},{"x":132,"y":131},{"x":132,"y":138},{"x":132,"y":141},{"x":133,"y":135},{"x":133,"y":137},{"x":133,"y":140},{"x":134,"y":134},{"x":134,"y":140},{"x":134,"y":144},{"x":135,"y":133},{"x":135,"y":138},{"x":135,"y":143},{"x":136,"y":137},{"x":136,"y":143},{"x":136,"y":145},{"x":137,"y":136},{"x":137,"y":142},{"x":137,"y":144},{"x":138,"y":140},{"x":138,"y":141},{"x":138,"y":148},{"x":139,"y":139},{"x":139,"y":145},{"x":139,"y":147},{"x":140,"y":138},{"x":140,"y":144},{"x":140,"y":149},{"x":141,"y":142},{"x":141,"y":147},{"x":141,"y":148},{"x":142,"y":141},{"x":142,"y":145},{"x":143,"y":145},{"x":143,"y":149},{"x":144,"y":144},{"x":144,"y":149},{"x":145,"y":143},{"x":145,"y":147},{"x":146,"y":147},{"x":146,"y":149},{"x":147,"y":146},{"x":147,"y":149},{"x":148,"y":148},{"x":149,"y":149},{"x":149,"y":147},
{"x":30,"y":56.8},{"x":33,"y":61.5},{"x":54,"y":81},{"x":54.7,"y":100.6},{"x":72.6,"y":110},{"x":45,"y":62},{"x":60,"y":80},{"x":85,"y":108},{"x":95,"y":118},{"x":105,"y":125},{"x":112,"y":135},{"x":118,"y":140},{"x":122,"y":144},{"x":108,"y":130},{"x":100,"y":120},{"x":88,"y":112},{"x":140,"y":130},{"x":125,"y":145},{"x":130,"y":148},{"x":65,"y":85},{"x":78,"y":97},{"x":92,"y":114},{"x":102,"y":96},{"x":120,"y":112},{"x":135,"y":128},
{"x":0.5,"y":1},{"x":0.5,"y":4},{"x":1.5,"y":4},{"x":2.5,"y":3},{"x":2.5,"y":7},{"x":3.5,"y":7},{"x":4.5,"y":4},{"x":4.5,"y":5},{"x":5.5,"y":8},{"x":6.5,"y":7},{"x":6.5,"y":11},{"x":7.5,"y":11},{"x":8.5,"y":8},{"x":8.5,"y":10},{"x":9.5,"y":12},{"x":10.5,"y":11},{"x":10.5,"y":15},{"x":11.5,"y":15},{"x":12.5,"y":12},{"x":12.5,"y":14},{"x":13.5,"y":16},{"x":14.5,"y":15},{"x":14.5,"y":19},{"x":15.5,"y":19},{"x":16.5,"y":16},{"x":16.5,"y":18},{"x":17.5,"y":20},{"x":18.5,"y":19},{"x":18.5,"y":23},{"x":19.5,"y":23},{"x":20.5,"y":21},{"x":20.5,"y":29},{"x":21.5,"y":26},{"x":22.5,"y":25},{"x":22.5,"y":26},{"x":23.5,"y":30},{"x":24.5,"y":25},{"x":24.5,"y":23},{"x":25.5,"y":30},{"x":26.5,"y":29},{"x":26.5,"y":35},{"x":27.5,"y":34},{"x":28.5,"y":29},{"x":28.5,"y":32},{"x":29.5,"y":34},{"x":30.5,"y":33},{"x":30.5,"y":29},{"x":31.5,"y":38},{"x":32.5,"y":33},{"x":32.5,"y":41},{"x":33.5,"y":38},{"x":34.5,"y":37},{"x":34.5,"y":38},{"x":35.5,"y":42},{"x":36.5,"y":37},{"x":36.5,"y":35},{"x":37.5,"y":42},{"x":38.5,"y":41},{"x":38.5,"y":47},{"x":39.5,"y":46},{"x":40.5,"y":41},{"x":40.5,"y":44},{"x":41.5,"y":46},{"x":42.5,"y":45},{"x":42.5,"y":41},{"x":43.5,"y":50},{"x":44.5,"y":45},{"x":44.5,"y":53},{"x":45.5,"y":50},{"x":46.5,"y":49},{"x":46.5,"y":50},{"x":47.5,"y":54},{"x":48.5,"y":49},{"x":48.5,"y":47},{"x":49.5,"y":54},{"x":50.5,"y":53},{"x":50.5,"y":59},{"x":51.5,"y":58},{"x":52.5,"y":53},{"x":52.5,"y":56},{"x":53.5,"y":58},{"x":54.5,"y":57},{"x":54.5,"y":53},{"x":55.5,"y":62},{"x":56.5,"y":57},{"x":56.5,"y":65},{"x":57.5,"y":62},{"x":58.5,"y":61},{"x":58.5,"y":62},{"x":59.5,"y":66},{"x":60.5,"y":61},{"x":60.5,"y":59},{"x":61.5,"y":66},{"x":62.5,"y":65},{"x":62.5,"y":71},{"x":63.5,"y":70},{"x":64.5,"y":65},{"x":64.5,"y":68},{"x":65.5,"y":70},{"x":66.5,"y":69},{"x":66.5,"y":65},{"x":67.5,"y":74},{"x":68.5,"y":69},{"x":68.5,"y":77},{"x":69.5,"y":74},{"x":70.5,"y":73},{"x":70.5,"y":74},{"x":71.5,"y":78},{"x":72.5,"y":73},{"x":72.5,"y":71},{"x":73.5,"y":78},{"x":74.5,"y":77},{"x":74.5,"y":83},{"x":75.5,"y":82},{"x":76.5,"y":77},{"x":76.5,"y":80},{"x":77.5,"y":82},{"x":78.5,"y":81},{"x":78.5,"y":77},{"x":79.5,"y":86},{"x":80.5,"y":81},{"x":80.5,"y":89},{"x":81.5,"y":86},{"x":82.5,"y":85},{"x":82.5,"y":86},{"x":83.5,"y":90},{"x":84.5,"y":85},{"x":84.5,"y":83},{"x":85.5,"y":90},{"x":86.5,"y":89},{"x":86.5,"y":95},{"x":87.5,"y":94},{"x":88.5,"y":89},{"x":88.5,"y":92},{"x":89.5,"y":94},{"x":90.5,"y":93},{"x":90.5,"y":89},{"x":91.5,"y":98},{"x":92.5,"y":93},{"x":92.5,"y":101},{"x":93.5,"y":98},{"x":94.5,"y":97},{"x":94.5,"y":98},{"x":95.5,"y":102},{"x":96.5,"y":97},{"x":96.5,"y":95},{"x":97.5,"y":102},{"x":98.5,"y":101},{"x":98.5,"y":107},{"x":99.5,"y":106},{"x":100.5,"y":101},{"x":100.5,"y":104},{"x":101.5,"y":106},{"x":102.5,"y":105},{"x":102.5,"y":101},{"x":103.5,"y":110},{"x":104.5,"y":105},{"x":104.5,"y":113},{"x":105.5,"y":110},{"x":106.5,"y":109},{"x":106.5,"y":110},{"x":107.5,"y":114},{"x":108.5,"y":109},{"x":108.5,"y":107},{"x":109.5,"y":114},{"x":110.5,"y":113},{"x":110.5,"y":119},{"x":111.5,"y":118},{"x":112.5,"y":113},{"x":112.5,"y":116},{"x":113.5,"y":118},{"x":114.5,"y":117},{"x":114.5,"y":113},{"x":115.5,"y":122},{"x":116.5,"y":117},{"x":116.5,"y":125},{"x":117.5,"y":122},{"x":118.5,"y":121},{"x":118.5,"y":122},{"x":119.5,"y":126},{"x":120.5,"y":121},{"x":120.5,"y":119},{"x":121.5,"y":126},{"x":122.5,"y":125},{"x":122.5,"y":131},{"x":123.5,"y":130},{"x":124.5,"y":125},{"x":124.5,"y":128},{"x":125.5,"y":130},{"x":126.5,"y":129},{"x":126.5,"y":125},{"x":127.5,"y":134},{"x":128.5,"y":129},{"x":128.5,"y":137},{"x":129.5,"y":134},{"x":130.5,"y":133},{"x":130.5,"y":134},{"x":131.5,"y":138},{"x":132.5,"y":133},{"x":132.5,"y":131},{"x":133.5,"y":138},{"x":134.5,"y":137},{"x":134.5,"y":143},{"x":135.5,"y":142},{"x":136.5,"y":137},{"x":136.5,"y":140},{"x":137.5,"y":142},{"x":138.5,"y":141},{"x":138.5,"y":137},{"x":139.5,"y":146},{"x":140.5,"y":141},{"x":140.5,"y":149},{"x":141.5,"y":146},{"x":142.5,"y":145},{"x":142.5,"y":146},{"x":143.5,"y":149},{"x":144.5,"y":145},{"x":144.5,"y":143},{"x":145.5,"y":148},{"x":146.5,"y":149},{"x":148.5,"y":149}],
"psi": [{"x":0,"y":1},{"x":0,"y":4},{"x":0,"y":17},{"x":1,"y":2},{"x":1,"y":11},{"x":1,"y":10},{"x":2,"y":3},{"x":2,"y":2},{"x":2,"y":15},{"x":3,"y":1},{"x":3,"y":10},{"x":3,"y":23},{"x":4,"y":2},{"x":4,"y":18},{"x":4,"y":21},{"x":5,"y":3},{"x":5,"y":8},{"x":5,"y":14},{"x":6,"y":1},{"x":6,"y":2},{"x":6,"y":19},{"x":7,"y":2},{"x":7,"y":11},{"x":7,"y":27},{"x":8,"y":0.5},{"x":8,"y":18},{"x":8,"y":25},{"x":9,"y":7},{"x":9,"y":9},{"x":9,"y":18},{"x":10,"y":1},{"x":10,"y":17},{"x":10,"y":23},{"x":11,"y":6},{"x":11,"y":25},{"x":11,"y":31},{"x":12,"y":2},{"x":12,"y":15},{"x":12,"y":29},{"x":13,"y":5},{"x":13,"y":9},{"x":13,"y":22},{"x":14,"y":12},{"x":14,"y":18},{"x":14,"y":27},{"x":15,"y":3},{"x":15,"y":25},{"x":15,"y":35},{"x":16,"y":11},{"x":16,"y":16},{"x":16,"y":33},{"x":17,"y":2},{"x":17,"y":24},{"x":17,"y":26},{"x":18,"y":10},{"x":18,"y":32},{"x":18,"y":31},{"x":19,"y":17},{"x":19,"y":22},{"x":19,"y":39},{"x":20,"y":8},{"x":20,"y":16},{"x":20,"y":37},{"x":21,"y":16},{"x":21,"y":25},{"x":21,"y":30},{"x":22,"y":7},{"x":22,"y":32},{"x":22,"y":35},{"x":23,"y":15},{"x":23,"y":23},{"x":23,"y":43},{"x":24,"y":22},{"x":24,"y":31},{"x":24,"y":41},{"x":25,"y":13},{"x":25,"y":39},{"x":25,"y":34},{"x":26,"y":21},{"x":26,"y":29},{"x":26,"y":39},{"x":27,"y":12},{"x":27,"y":23},{"x":27,"y":47},{"x":28,"y":20},{"x":28,"y":32},{"x":28,"y":45},{"x":29,"y":27},{"x":29,"y":39},{"x":29,"y":38},
{"x":30,"y":18},{"x":30,"y":30},{"x":30,"y":43},{"x":31,"y":26},{"x":31,"y":38},{"x":31,"y":51},{"x":32,"y":17},{"x":32,"y":46},{"x":32,"y":49},{"x":33,"y":25},{"x":33,"y":36},{"x":33,"y":42},{"x":34,"y":32},{"x":34,"y":30},{"x":34,"y":47},{"x":35,"y":23},{"x":35,"y":39},{"x":35,"y":55},{"x":36,"y":31},{"x":36,"y":46},{"x":36,"y":53},{"x":37,"y":22},{"x":37,"y":37},{"x":37,"y":46},{"x":38,"y":30},{"x":38,"y":45},{"x":38,"y":51},{"x":39,"y":37},{"x":39,"y":53},{"x":39,"y":59},{"x":40,"y":28},{"x":40,"y":43},{"x":40,"y":57},{"x":41,"y":36},{"x":41,"y":37},{"x":41,"y":50},{"x":42,"y":27},{"x":42,"y":46},{"x":42,"y":55},{"x":43,"y":35},{"x":43,"y":53},{"x":43,"y":63},{"x":44,"y":42},{"x":44,"y":44},{"x":44,"y":61},{"x":45,"y":33},{"x":45,"y":52},{"x":45,"y":54},{"x":46,"y":41},{"x":46,"y":60},{"x":46,"y":59},{"x":47,"y":32},{"x":47,"y":50},{"x":47,"y":67},{"x":48,"y":40},{"x":48,"y":44},{"x":48,"y":65},{"x":49,"y":47},{"x":49,"y":53},{"x":49,"y":58},{"x":50,"y":38},{"x":50,"y":60},{"x":50,"y":63},{"x":51,"y":46},{"x":51,"y":51},{"x":51,"y":71},{"x":52,"y":37},{"x":52,"y":59},{"x":52,"y":69},{"x":53,"y":45},{"x":53,"y":67},{"x":53,"y":62},{"x":54,"y":52},{"x":54,"y":57},{"x":54,"y":67},{"x":55,"y":43},{"x":55,"y":51},{"x":55,"y":75},{"x":56,"y":51},{"x":56,"y":60},{"x":56,"y":73},{"x":57,"y":42},{"x":57,"y":67},{"x":57,"y":66},{"x":58,"y":50},{"x":58,"y":58},{"x":58,"y":71},{"x":59,"y":57},{"x":59,"y":66},{"x":59,"y":79},
{"x":60,"y":48},{"x":60,"y":74},{"x":60,"y":77},{"x":61,"y":56},{"x":61,"y":64},{"x":61,"y":70},{"x":62,"y":47},{"x":62,"y":58},{"x":62,"y":75},{"x":63,"y":55},{"x":63,"y":67},{"x":63,"y":83},{"x":64,"y":62},{"x":64,"y":74},{"x":64,"y":81},{"x":65,"y":53},{"x":65,"y":65},{"x":65,"y":74},{"x":66,"y":61},{"x":66,"y":73},{"x":66,"y":79},{"x":67,"y":52},{"x":67,"y":81},{"x":67,"y":87},{"x":68,"y":60},{"x":68,"y":71},{"x":68,"y":85},{"x":69,"y":67},{"x":69,"y":65},{"x":69,"y":78},{"x":70,"y":58},{"x":70,"y":74},{"x":70,"y":83},{"x":71,"y":66},{"x":71,"y":81},{"x":71,"y":91},{"x":72,"y":57},{"x":72,"y":72},{"x":72,"y":89},{"x":73,"y":65},{"x":73,"y":80},{"x":73,"y":82},{"x":74,"y":72},{"x":74,"y":88},{"x":74,"y":87},{"x":75,"y":63},{"x":75,"y":78},{"x":75,"y":95},{"x":76,"y":71},{"x":76,"y":72},{"x":76,"y":93},{"x":77,"y":62},{"x":77,"y":81},{"x":77,"y":86},{"x":78,"y":70},{"x":78,"y":88},{"x":78,"y":91},{"x":79,"y":77},{"x":79,"y":79},{"x":79,"y":99},{"x":80,"y":68},{"x":80,"y":87},{"x":80,"y":97},{"x":81,"y":76},{"x":81,"y":95},{"x":81,"y":90},{"x":82,"y":67},{"x":82,"y":85},{"x":82,"y":95},{"x":83,"y":75},{"x":83,"y":79},{"x":83,"y":103},{"x":84,"y":82},{"x":84,"y":88},{"x":84,"y":101},{"x":85,"y":73},{"x":85,"y":95},{"x":85,"y":94},{"x":86,"y":81},{"x":86,"y":86},{"x":86,"y":99},{"x":87,"y":72},{"x":87,"y":94},{"x":87,"y":107},{"x":88,"y":80},{"x":88,"y":102},{"x":88,"y":105},{"x":89,"y":87},{"x":89,"y":92},{"x":89,"y":98},
{"x":90,"y":78},{"x":90,"y":86},{"x":90,"y":103},{"x":91,"y":86},{"x":91,"y":95},{"x":92,"y":77},{"x":92,"y":102},{"x":92,"y":109},{"x":93,"y":85},{"x":93,"y":93},{"x":94,"y":92},{"x":94,"y":101},{"x":94,"y":107},{"x":95,"y":83},{"x":95,"y":109},{"x":96,"y":91},{"x":96,"y":99},{"x":96,"y":113},{"x":97,"y":82},{"x":97,"y":93},{"x":98,"y":90},{"x":98,"y":102},{"x":98,"y":111},{"x":99,"y":97},{"x":99,"y":109},{"x":100,"y":88},{"x":100,"y":100},{"x":100,"y":117},{"x":101,"y":96},{"x":101,"y":108},{"x":102,"y":87},{"x":102,"y":116},{"x":102,"y":115},{"x":103,"y":95},{"x":103,"y":106},{"x":104,"y":102},{"x":104,"y":100},{"x":104,"y":121},{"x":105,"y":93},{"x":105,"y":109},{"x":106,"y":101},{"x":106,"y":116},{"x":106,"y":119},{"x":107,"y":92},{"x":107,"y":107},{"x":108,"y":100},{"x":108,"y":115},{"x":108,"y":125},{"x":109,"y":107},{"x":109,"y":123},{"x":110,"y":98},{"x":110,"y":113},{"x":110,"y":123},{"x":111,"y":106},{"x":111,"y":107},{"x":112,"y":97},{"x":112,"y":116},{"x":112,"y":129},{"x":113,"y":105},{"x":113,"y":123},{"x":114,"y":112},{"x":114,"y":114},{"x":114,"y":127},{"x":115,"y":103},{"x":115,"y":122},{"x":116,"y":111},{"x":116,"y":130},{"x":116,"y":133},{"x":117,"y":102},{"x":117,"y":120},{"x":118,"y":110},{"x":118,"y":114},{"x":118,"y":131},{"x":119,"y":117},{"x":119,"y":123},{"x":120,"y":108},{"x":120,"y":130},{"x":120,"y":137},{"x":121,"y":116},{"x":121,"y":121},{"x":122,"y":107},{"x":122,"y":129},{"x":122,"y":135},{"x":123,"y":115},{"x":123,"y":137},{"x":124,"y":122},{"x":124,"y":127},{"x":124,"y":141},{"x":125,"y":113},{"x":125,"y":121},{"x":126,"y":121},{"x":126,"y":130},{"x":126,"y":139},{"x":127,"y":112},{"x":127,"y":137},{"x":128,"y":120},{"x":128,"y":128},{"x":128,"y":145},{"x":129,"y":127},{"x":129,"y":136},{"x":130,"y":118},{"x":130,"y":144},{"x":130,"y":143},{"x":131,"y":126},{"x":131,"y":134},{"x":132,"y":117},{"x":132,"y":128},{"x":132,"y":149},{"x":133,"y":125},{"x":133,"y":137},{"x":134,"y":132},{"x":134,"y":144},{"x":134,"y":147},{"x":135,"y":123},{"x":135,"y":135},{"x":136,"y":131},{"x":136,"y":143},{"x":137,"y":122},{"x":137,"y":148},{"x":138,"y":130},{"x":138,"y":141},{"x":139,"y":137},{"x":139,"y":135},{"x":140,"y":128},{"x":140,"y":144},{"x":141,"y":136},{"x":141,"y":146},{"x":142,"y":127},{"x":142,"y":142},{"x":143,"y":135},{"x":143,"y":147},{"x":144,"y":142},{"x":144,"y":149},{"x":145,"y":133},{"x":145,"y":148},{"x":146,"y":141},{"x":146,"y":142},{"x":147,"y":132},{"x":147,"y":146},{"x":148,"y":140},{"x":148,"y":148},{"x":149,"y":147},{"x":149,"y":149},
{"x":18,"y":57.7},{"x":30.3,"y":11},{"x":41.3,"y":81},{"x":56.7,"y":100.6},{"x":64.6,"y":98.8},{"x":64,"y":39},{"x":71.5,"y":121},{"x":132.7,"y":71.7},{"x":146.5,"y":88},{"x":48,"y":73},{"x":60,"y":90},{"x":95,"y":75},{"x":110,"y":88},{"x":120,"y":100},{"x":140,"y":118},{"x":85,"y":120},{"x":100,"y":130},{"x":112,"y":142},{"x":125,"y":95},{"x":77,"y":60},
{"x":0.5,"y":6},{"x":1.5,"y":1},{"x":2.5,"y":17},{"x":3.5,"y":2},{"x":4.5,"y":15},{"x":5.5,"y":1},{"x":6.5,"y":8},{"x":7.5,"y":13},{"x":8.5,"y":1},{"x":9.5,"y":24},{"x":10.5,"y":9},{"x":11.5,"y":22},{"x":12.5,"y":1},{"x":13.5,"y":15},{"x":14.5,"y":20},{"x":15.5,"y":8},{"x":16.5,"y":31},{"x":17.5,"y":16},{"x":18.5,"y":29},{"x":19.5,"y":8},{"x":20.5,"y":22},{"x":21.5,"y":27},{"x":22.5,"y":15},{"x":23.5,"y":38},{"x":24.5,"y":23},{"x":25.5,"y":36},{"x":26.5,"y":15},{"x":27.5,"y":29},{"x":28.5,"y":34},{"x":29.5,"y":22},{"x":30.5,"y":45},{"x":31.5,"y":30},{"x":32.5,"y":43},{"x":33.5,"y":22},{"x":34.5,"y":36},{"x":35.5,"y":41},{"x":36.5,"y":29},{"x":37.5,"y":52},{"x":38.5,"y":37},{"x":39.5,"y":50},{"x":40.5,"y":29},{"x":41.5,"y":43},{"x":42.5,"y":48},{"x":43.5,"y":36},{"x":44.5,"y":59},{"x":45.5,"y":44},{"x":46.5,"y":57},{"x":47.5,"y":36},{"x":48.5,"y":50},{"x":49.5,"y":55},{"x":50.5,"y":43},{"x":51.5,"y":66},{"x":52.5,"y":51},{"x":53.5,"y":64},{"x":54.5,"y":43},{"x":55.5,"y":57},{"x":56.5,"y":62},{"x":57.5,"y":50},{"x":58.5,"y":73},{"x":59.5,"y":58},{"x":60.5,"y":71},{"x":61.5,"y":50},{"x":62.5,"y":64},{"x":63.5,"y":69},{"x":64.5,"y":57},{"x":65.5,"y":80},{"x":66.5,"y":65},{"x":67.5,"y":78},{"x":68.5,"y":57},{"x":69.5,"y":71},{"x":70.5,"y":76},{"x":71.5,"y":64},{"x":72.5,"y":87},{"x":73.5,"y":72},{"x":74.5,"y":85},{"x":75.5,"y":64},{"x":76.5,"y":78},{"x":77.5,"y":83},{"x":78.5,"y":71},{"x":79.5,"y":94},{"x":80.5,"y":79},{"x":81.5,"y":92},{"x":82.5,"y":71},{"x":83.5,"y":85},{"x":84.5,"y":90},{"x":85.5,"y":78},{"x":86.5,"y":101},{"x":87.5,"y":86},{"x":88.5,"y":99},{"x":89.5,"y":78},{"x":90.5,"y":92},{"x":91.5,"y":97},{"x":92.5,"y":85},{"x":93.5,"y":108},{"x":94.5,"y":93},{"x":95.5,"y":106},{"x":96.5,"y":85},{"x":97.5,"y":99},{"x":98.5,"y":104},{"x":99.5,"y":92},{"x":100.5,"y":115},{"x":101.5,"y":100},{"x":102.5,"y":113},{"x":103.5,"y":92},{"x":104.5,"y":106},{"x":105.5,"y":111},{"x":106.5,"y":99},{"x":107.5,"y":122},{"x":108.5,"y":107},{"x":109.5,"y":120},{"x":110.5,"y":99},{"x":111.5,"y":113},{"x":112.5,"y":118},{"x":113.5,"y":106},{"x":114.5,"y":129},{"x":115.5,"y":114},{"x":116.5,"y":127},{"x":117.5,"y":106},{"x":118.5,"y":120},{"x":119.5,"y":125},{"x":120.5,"y":113},{"x":121.5,"y":136},{"x":122.5,"y":121},{"x":123.5,"y":134},{"x":124.5,"y":113},{"x":125.5,"y":127},{"x":126.5,"y":132},{"x":127.5,"y":120},{"x":128.5,"y":143},{"x":129.5,"y":128},{"x":130.5,"y":141},{"x":131.5,"y":120},{"x":132.5,"y":134},{"x":133.5,"y":139},{"x":134.5,"y":127},{"x":135.5,"y":149},{"x":136.5,"y":135},{"x":137.5,"y":148},{"x":138.5,"y":127},{"x":139.5,"y":141},{"x":140.5,"y":146},{"x":141.5,"y":134},{"x":143.5,"y":142},{"x":145.5,"y":134},{"x":146.5,"y":148},{"x":148.5,"y":141}],
"lgge": [{"x":0,"y":0.5},{"x":1,"y":2},{"x":1,"y":0.5},{"x":2,"y":4},{"x":3,"y":2},{"x":3,"y":6},{"x":4,"y":1},{"x":5,"y":3},{"x":6,"y":7},{"x":6,"y":3},{"x":7,"y":9},{"x":8,"y":7},{"x":8,"y":11},{"x":9,"y":6},{"x":10,"y":8},{"x":11,"y":12},{"x":11,"y":8},{"x":12,"y":14},{"x":13,"y":12},{"x":13,"y":16},{"x":14,"y":11},{"x":15,"y":13},{"x":16,"y":17},{"x":16,"y":13},{"x":17,"y":19},{"x":18,"y":17},{"x":18,"y":21},{"x":19,"y":16},{"x":20,"y":18},{"x":21,"y":22},{"x":21,"y":18},{"x":22,"y":24},{"x":23,"y":22},{"x":23,"y":26},{"x":24,"y":21},{"x":25,"y":23},{"x":26,"y":27},{"x":26,"y":23},{"x":27,"y":29},{"x":28,"y":27},{"x":28,"y":31},{"x":29,"y":26},
{"x":30,"y":22},{"x":30,"y":33},{"x":31,"y":28},{"x":32,"y":34},{"x":32,"y":22},{"x":33,"y":38},{"x":34,"y":29},{"x":34,"y":35},{"x":35,"y":27},{"x":35,"y":38},{"x":36,"y":33},{"x":37,"y":39},{"x":37,"y":27},{"x":38,"y":43},{"x":39,"y":34},{"x":39,"y":40},{"x":40,"y":32},{"x":40,"y":43},{"x":41,"y":38},{"x":42,"y":44},{"x":42,"y":32},{"x":43,"y":48},{"x":44,"y":39},{"x":44,"y":45},{"x":45,"y":37},{"x":45,"y":48},{"x":46,"y":43},{"x":47,"y":49},{"x":47,"y":37},{"x":48,"y":53},{"x":49,"y":44},{"x":49,"y":50},{"x":50,"y":42},{"x":50,"y":53},{"x":51,"y":48},{"x":52,"y":54},{"x":52,"y":42},{"x":53,"y":58},{"x":54,"y":49},{"x":54,"y":55},{"x":55,"y":47},{"x":55,"y":58},{"x":56,"y":53},{"x":57,"y":59},{"x":57,"y":47},{"x":58,"y":63},{"x":59,"y":54},{"x":59,"y":60},
{"x":60,"y":50},{"x":60,"y":66},{"x":61,"y":57},{"x":62,"y":71},{"x":62,"y":55},{"x":63,"y":64},{"x":64,"y":52},{"x":64,"y":68},{"x":65,"y":55},{"x":65,"y":71},{"x":66,"y":62},{"x":67,"y":76},{"x":67,"y":60},{"x":68,"y":69},{"x":69,"y":57},{"x":69,"y":73},{"x":70,"y":60},{"x":70,"y":76},{"x":71,"y":67},{"x":72,"y":81},{"x":72,"y":65},{"x":73,"y":74},{"x":74,"y":62},{"x":74,"y":78},{"x":75,"y":65},{"x":75,"y":81},{"x":76,"y":72},{"x":77,"y":86},{"x":77,"y":70},{"x":78,"y":79},{"x":79,"y":67},{"x":79,"y":83},{"x":80,"y":70},{"x":80,"y":86},{"x":81,"y":77},{"x":82,"y":91},{"x":82,"y":75},{"x":83,"y":84},{"x":84,"y":72},{"x":84,"y":88},{"x":85,"y":75},{"x":85,"y":91},{"x":86,"y":82},{"x":87,"y":96},{"x":87,"y":80},{"x":88,"y":89},{"x":89,"y":77},{"x":89,"y":93},{"x":90,"y":80},{"x":90,"y":96},{"x":91,"y":87},{"x":92,"y":101},{"x":92,"y":85},{"x":93,"y":94},{"x":94,"y":82},{"x":94,"y":98},{"x":95,"y":85},{"x":95,"y":101},{"x":96,"y":92},{"x":97,"y":106},{"x":97,"y":90},{"x":98,"y":99},{"x":99,"y":87},{"x":99,"y":103},
{"x":100,"y":88},{"x":101,"y":106},{"x":102,"y":96},{"x":103,"y":113},{"x":104,"y":102},{"x":105,"y":93},{"x":106,"y":111},{"x":107,"y":101},{"x":108,"y":118},{"x":109,"y":107},{"x":110,"y":98},{"x":111,"y":116},{"x":112,"y":106},{"x":113,"y":123},{"x":114,"y":112},{"x":115,"y":103},{"x":116,"y":121},{"x":117,"y":111},{"x":118,"y":128},{"x":119,"y":117},{"x":120,"y":108},{"x":121,"y":126},{"x":122,"y":116},{"x":123,"y":133},{"x":124,"y":122},{"x":126,"y":120},{"x":128,"y":138},{"x":130,"y":143},{"x":133.6,"y":142},
{"x":0.6,"y":17},{"x":15.4,"y":31},{"x":23.6,"y":1},{"x":44.6,"y":70.5},{"x":48,"y":65},{"x":63,"y":74},{"x":76,"y":103},{"x":35.5,"y":18},{"x":39.5,"y":20},{"x":40.5,"y":29},{"x":46.5,"y":33},{"x":89.5,"y":81},{"x":98.5,"y":91},{"x":112,"y":99},{"x":25,"y":14},{"x":58,"y":44},{"x":70,"y":52},{"x":85,"y":100},{"x":102,"y":120},{"x":118,"y":132}],
"umn": [{"x":0,"y":3},{"x":0,"y":14},{"x":0,"y":27},{"x":0,"y":41},{"x":1,"y":8},{"x":1,"y":20},{"x":1,"y":35},{"x":1,"y":52},{"x":2,"y":1},{"x":2,"y":11},{"x":2,"y":24},{"x":2,"y":57},{"x":3,"y":5},{"x":3,"y":17},{"x":3,"y":31},{"x":3,"y":46},{"x":4,"y":10},{"x":4,"y":22},{"x":4,"y":38},{"x":4,"y":50},{"x":5,"y":2},{"x":5,"y":16},{"x":5,"y":29},{"x":5,"y":44},{"x":6,"y":7},{"x":6,"y":19},{"x":6,"y":33},{"x":6,"y":56},{"x":7,"y":4},{"x":7,"y":13},{"x":7,"y":26},{"x":7,"y":48},{"x":8,"y":9},{"x":8,"y":21},{"x":8,"y":36},{"x":8,"y":57},{"x":9,"y":1},{"x":9,"y":15},{"x":9,"y":30},{"x":9,"y":43},
{"x":10,"y":6},{"x":10,"y":18},{"x":10,"y":29},{"x":10,"y":41},{"x":10,"y":53},{"x":11,"y":12},{"x":11,"y":24},{"x":11,"y":35},{"x":11,"y":47},{"x":12,"y":2},{"x":12,"y":15},{"x":12,"y":27},{"x":12,"y":38},{"x":12,"y":56},{"x":13,"y":9},{"x":13,"y":21},{"x":13,"y":32},{"x":13,"y":44},{"x":14,"y":4},{"x":14,"y":17},{"x":14,"y":30},{"x":14,"y":50},{"x":15,"y":7},{"x":15,"y":19},{"x":15,"y":31},{"x":15,"y":42},{"x":15,"y":54},{"x":16,"y":13},{"x":16,"y":25},{"x":16,"y":36},{"x":16,"y":48},{"x":17,"y":3},{"x":17,"y":16},{"x":17,"y":28},{"x":17,"y":39},{"x":17,"y":57},{"x":18,"y":10},{"x":18,"y":22},{"x":18,"y":33},{"x":18,"y":45},{"x":19,"y":5},{"x":19,"y":18},{"x":19,"y":31},{"x":19,"y":51},{"x":20,"y":9},{"x":20,"y":21},{"x":20,"y":32},{"x":20,"y":44},{"x":20,"y":56},{"x":21,"y":15},{"x":21,"y":27},{"x":21,"y":38},{"x":21,"y":50},{"x":22,"y":5},{"x":22,"y":18},{"x":22,"y":30},{"x":22,"y":41},{"x":22,"y":58},{"x":23,"y":12},{"x":23,"y":24},{"x":23,"y":35},{"x":23,"y":47},{"x":24,"y":7},{"x":24,"y":20},{"x":24,"y":33},{"x":24,"y":53},{"x":25,"y":10},{"x":25,"y":22},{"x":25,"y":33},{"x":25,"y":45},{"x":25,"y":57},{"x":26,"y":16},{"x":26,"y":28},{"x":26,"y":39},{"x":26,"y":51},{"x":27,"y":6},{"x":27,"y":19},{"x":27,"y":31},{"x":27,"y":42},{"x":27,"y":58},{"x":28,"y":13},{"x":28,"y":25},{"x":28,"y":36},{"x":28,"y":48},{"x":29,"y":8},{"x":29,"y":21},{"x":29,"y":34},{"x":29,"y":54},
{"x":30,"y":12},{"x":30,"y":28},{"x":30,"y":38},{"x":30,"y":46},{"x":30,"y":55},{"x":31,"y":20},{"x":31,"y":33},{"x":31,"y":42},{"x":31,"y":51},{"x":32,"y":5},{"x":32,"y":25},{"x":32,"y":36},{"x":32,"y":48},{"x":32,"y":58},{"x":33,"y":16},{"x":33,"y":30},{"x":33,"y":40},{"x":33,"y":53},{"x":34,"y":9},{"x":34,"y":26},{"x":34,"y":35},{"x":34,"y":44},{"x":34,"y":57},{"x":35,"y":14},{"x":35,"y":29},{"x":35,"y":39},{"x":35,"y":47},{"x":35,"y":56},{"x":36,"y":22},{"x":36,"y":34},{"x":36,"y":43},{"x":36,"y":52},{"x":37,"y":7},{"x":37,"y":27},{"x":37,"y":37},{"x":37,"y":49},{"x":37,"y":59},{"x":38,"y":18},{"x":38,"y":31},{"x":38,"y":41},{"x":38,"y":54},{"x":39,"y":11},{"x":39,"y":27},{"x":39,"y":36},{"x":39,"y":45},{"x":39,"y":58},{"x":40,"y":16},{"x":40,"y":31},{"x":40,"y":41},{"x":40,"y":49},{"x":40,"y":57},{"x":41,"y":24},{"x":41,"y":36},{"x":41,"y":45},{"x":41,"y":54},{"x":42,"y":9},{"x":42,"y":29},{"x":42,"y":40},{"x":42,"y":51},{"x":42,"y":60},{"x":43,"y":20},{"x":43,"y":34},{"x":43,"y":44},{"x":43,"y":56},{"x":44,"y":13},{"x":44,"y":30},{"x":44,"y":39},{"x":44,"y":47},{"x":44,"y":59},{"x":45,"y":18},{"x":45,"y":33},{"x":45,"y":43},{"x":45,"y":50},{"x":45,"y":58},{"x":46,"y":26},{"x":46,"y":38},{"x":46,"y":47},{"x":46,"y":55},{"x":47,"y":11},{"x":47,"y":31},{"x":47,"y":42},{"x":47,"y":53},{"x":47,"y":60},{"x":48,"y":22},{"x":48,"y":36},{"x":48,"y":46},{"x":48,"y":57},{"x":49,"y":15},{"x":49,"y":32},{"x":49,"y":41},{"x":49,"y":49},{"x":49,"y":60},
{"x":50,"y":46},{"x":50,"y":51},{"x":50,"y":55},{"x":51,"y":47},{"x":51,"y":52},{"x":51,"y":56},{"x":52,"y":48},{"x":52,"y":53},{"x":52,"y":57},{"x":53,"y":49},{"x":53,"y":54},{"x":53,"y":58},{"x":54,"y":50},{"x":54,"y":55},{"x":54,"y":59},{"x":55,"y":52},{"x":55,"y":59},{"x":56,"y":56},{"x":56,"y":58},{"x":57,"y":56},{"x":57,"y":61},{"x":58,"y":54},{"x":58,"y":61},{"x":59,"y":60},{"x":59,"y":62},{"x":60,"y":57},{"x":60,"y":65},{"x":61,"y":61},{"x":61,"y":63},{"x":62,"y":61},{"x":62,"y":66},{"x":63,"y":59},{"x":63,"y":65},{"x":64,"y":65},{"x":64,"y":68},{"x":65,"y":62},{"x":65,"y":68},{"x":66,"y":66},{"x":66,"y":67},{"x":67,"y":66},{"x":67,"y":72},{"x":68,"y":64},{"x":68,"y":70},{"x":69,"y":70},{"x":69,"y":73},{"x":70,"y":67},{"x":70,"y":72},{"x":71,"y":71},{"x":71,"y":75},{"x":72,"y":71},{"x":72,"y":75},{"x":73,"y":69},{"x":73,"y":74},{"x":74,"y":75},{"x":74,"y":79},{"x":75,"y":72},{"x":75,"y":77},{"x":76,"y":76},{"x":76,"y":80},{"x":77,"y":76},{"x":77,"y":79},{"x":78,"y":74},{"x":78,"y":82},{"x":79,"y":80},{"x":79,"y":82},{"x":80,"y":77},{"x":80,"y":81},{"x":81,"y":81},{"x":81,"y":86},{"x":82,"y":81},{"x":82,"y":84},{"x":83,"y":79},{"x":83,"y":87},{"x":84,"y":85},{"x":84,"y":86},{"x":85,"y":82},{"x":85,"y":89},{"x":86,"y":86},{"x":86,"y":89},{"x":87,"y":86},{"x":87,"y":88},{"x":88,"y":84},{"x":88,"y":93},{"x":89,"y":90},{"x":89,"y":91},{"x":90,"y":87},{"x":90,"y":94},{"x":91,"y":91},{"x":91,"y":93},{"x":92,"y":91},{"x":92,"y":96},{"x":93,"y":89},{"x":93,"y":96},{"x":94,"y":95},{"x":94,"y":97},{"x":95,"y":92},{"x":95,"y":100},{"x":96,"y":96},{"x":96,"y":98},{"x":97,"y":96},{"x":97,"y":101},{"x":98,"y":94},{"x":98,"y":100},{"x":99,"y":100},{"x":99,"y":103},
{"x":100,"y":97},{"x":100,"y":103},{"x":101,"y":101},{"x":101,"y":102},{"x":102,"y":101},{"x":102,"y":107},{"x":103,"y":99},{"x":103,"y":105},{"x":104,"y":105},{"x":104,"y":108},{"x":105,"y":102},{"x":105,"y":107},{"x":106,"y":106},{"x":106,"y":110},{"x":107,"y":106},{"x":107,"y":110},{"x":108,"y":104},{"x":108,"y":109},{"x":109,"y":110},{"x":109,"y":114},{"x":110,"y":107},{"x":110,"y":112},{"x":111,"y":111},{"x":111,"y":115},{"x":112,"y":111},{"x":112,"y":114},{"x":113,"y":109},{"x":113,"y":117},{"x":114,"y":115},{"x":114,"y":117},{"x":115,"y":112},{"x":115,"y":116},{"x":116,"y":116},{"x":116,"y":121},{"x":117,"y":116},{"x":117,"y":119},{"x":118,"y":114},{"x":118,"y":122},{"x":119,"y":120},{"x":119,"y":121},{"x":120,"y":117},{"x":120,"y":124},{"x":121,"y":121},{"x":121,"y":124},{"x":122,"y":121},{"x":122,"y":123},{"x":123,"y":119},{"x":123,"y":128},{"x":124,"y":125},{"x":124,"y":126},{"x":125,"y":122},{"x":125,"y":129},{"x":126,"y":126},{"x":126,"y":128},{"x":127,"y":126},{"x":127,"y":131},{"x":128,"y":124},{"x":128,"y":131},{"x":129,"y":130},{"x":129,"y":132},{"x":130,"y":127},{"x":130,"y":135},{"x":131,"y":131},{"x":131,"y":133},{"x":132,"y":131},{"x":132,"y":136},{"x":133,"y":129},{"x":133,"y":135},{"x":134,"y":135},{"x":134,"y":138},{"x":135,"y":132},{"x":135,"y":138},{"x":136,"y":136},{"x":136,"y":137},{"x":137,"y":136},{"x":137,"y":142},{"x":138,"y":134},{"x":138,"y":140},{"x":139,"y":140},{"x":139,"y":143},{"x":140,"y":137},{"x":140,"y":142},{"x":141,"y":141},{"x":141,"y":145},{"x":142,"y":141},{"x":142,"y":145},{"x":143,"y":139},{"x":143,"y":144},{"x":144,"y":145},{"x":144,"y":149},{"x":145,"y":142},{"x":145,"y":147},{"x":146,"y":146},{"x":146,"y":149},{"x":147,"y":146},{"x":147,"y":149},{"x":148,"y":144},{"x":148,"y":148},{"x":149,"y":148},{"x":149,"y":149},
{"x":63,"y":41},{"x":72,"y":92},{"x":52.5,"y":7},{"x":45.6,"y":1},{"x":51,"y":17},{"x":48.3,"y":22},{"x":43.6,"y":9},{"x":46.6,"y":15},{"x":40.3,"y":12},{"x":36,"y":3},{"x":28,"y":1},{"x":50,"y":30},{"x":47,"y":5},{"x":53,"y":25},{"x":44,"y":24},{"x":38,"y":6},{"x":88,"y":80},{"x":108,"y":97},
{"x":0.5,"y":8},{"x":0.5,"y":48},{"x":1.5,"y":25},{"x":1.5,"y":21},{"x":2.5,"y":40},{"x":2.5,"y":36},{"x":3.5,"y":16},{"x":3.5,"y":4},{"x":4.5,"y":33},{"x":4.5,"y":29},{"x":5.5,"y":8},{"x":5.5,"y":52},{"x":6.5,"y":25},{"x":6.5,"y":13},{"x":7.5,"y":40},{"x":7.5,"y":48},{"x":8.5,"y":16},{"x":8.5,"y":21},{"x":9.5,"y":33},{"x":9.5,"y":36},{"x":10.5,"y":10},{"x":10.5,"y":6},{"x":11.5,"y":27},{"x":11.5,"y":31},{"x":12.5,"y":42},{"x":12.5,"y":54},{"x":13.5,"y":18},{"x":13.5,"y":15},{"x":14.5,"y":35},{"x":14.5,"y":50},{"x":15.5,"y":10},{"x":15.5,"y":23},{"x":16.5,"y":27},{"x":16.5,"y":38},{"x":17.5,"y":42},{"x":17.5,"y":6},{"x":18.5,"y":18},{"x":18.5,"y":31},{"x":19.5,"y":35},{"x":19.5,"y":54},{"x":20.5,"y":12},{"x":20.5,"y":17},{"x":21.5,"y":29},{"x":21.5,"y":52},{"x":22.5,"y":44},{"x":22.5,"y":25},{"x":23.5,"y":20},{"x":23.5,"y":40},{"x":24.5,"y":37},{"x":24.5,"y":8},{"x":25.5,"y":12},{"x":25.5,"y":33},{"x":26.5,"y":29},{"x":26.5,"y":56},{"x":27.5,"y":44},{"x":27.5,"y":17},{"x":28.5,"y":20},{"x":28.5,"y":52},{"x":29.5,"y":37},{"x":29.5,"y":25},{"x":30.5,"y":14},{"x":30.5,"y":42},{"x":31.5,"y":31},{"x":31.5,"y":10},{"x":32.5,"y":46},{"x":32.5,"y":35},{"x":33.5,"y":22},{"x":33.5,"y":58},{"x":34.5,"y":39},{"x":34.5,"y":19},{"x":35.5,"y":14},{"x":35.5,"y":54},{"x":36.5,"y":31},{"x":36.5,"y":27},{"x":37.5,"y":46},{"x":37.5,"y":42},{"x":38.5,"y":22},{"x":38.5,"y":10},{"x":39.5,"y":39},{"x":39.5,"y":35},{"x":40.5,"y":16},{"x":40.5,"y":60},{"x":41.5,"y":33},{"x":41.5,"y":21},{"x":42.5,"y":48},{"x":42.5,"y":56},{"x":43.5,"y":24},{"x":43.5,"y":29},{"x":44.5,"y":41},{"x":44.5,"y":44},{"x":45.5,"y":16},{"x":45.5,"y":12},{"x":46.5,"y":33},{"x":46.5,"y":37},{"x":47.5,"y":48},{"x":47.5,"y":60},{"x":48.5,"y":24},{"x":48.5,"y":21},{"x":49.5,"y":41},{"x":49.5,"y":56},
{"x":50.5,"y":53},{"x":51.5,"y":52},{"x":52.5,"y":50},{"x":53.5,"y":56},{"x":54.5,"y":55},{"x":55.5,"y":53},{"x":56.5,"y":59},{"x":57.5,"y":58},{"x":58.5,"y":56},{"x":59.5,"y":62},{"x":60.5,"y":61},{"x":61.5,"y":59},{"x":62.5,"y":65},{"x":63.5,"y":64},{"x":64.5,"y":62},{"x":65.5,"y":68},{"x":66.5,"y":67},{"x":67.5,"y":65},{"x":68.5,"y":71},{"x":69.5,"y":70},{"x":70.5,"y":68},{"x":71.5,"y":74},{"x":72.5,"y":73},{"x":73.5,"y":71},{"x":74.5,"y":77},{"x":75.5,"y":76},{"x":76.5,"y":74},{"x":77.5,"y":80},{"x":78.5,"y":79},{"x":79.5,"y":77},{"x":80.5,"y":83},{"x":81.5,"y":82},{"x":82.5,"y":80},{"x":83.5,"y":86},{"x":84.5,"y":85},{"x":85.5,"y":83},{"x":86.5,"y":89},{"x":87.5,"y":88},{"x":88.5,"y":86},{"x":89.5,"y":92},{"x":90.5,"y":91},{"x":91.5,"y":89},{"x":92.5,"y":95},{"x":93.5,"y":94},{"x":94.5,"y":92},{"x":95.5,"y":98},{"x":96.5,"y":97},{"x":97.5,"y":95},{"x":98.5,"y":101},{"x":99.5,"y":100},{"x":100.5,"y":98},{"x":101.5,"y":104},{"x":102.5,"y":103},{"x":103.5,"y":101},{"x":104.5,"y":107},{"x":105.5,"y":106},{"x":106.5,"y":104},{"x":107.5,"y":110},{"x":108.5,"y":109},{"x":109.5,"y":107},{"x":110.5,"y":113},{"x":111.5,"y":112},{"x":112.5,"y":110},{"x":113.5,"y":116},{"x":114.5,"y":115},{"x":115.5,"y":113},{"x":116.5,"y":119},{"x":117.5,"y":118},{"x":118.5,"y":116},{"x":119.5,"y":122},{"x":120.5,"y":121},{"x":121.5,"y":119},{"x":122.5,"y":125},{"x":123.5,"y":124},{"x":124.5,"y":122},{"x":125.5,"y":128},{"x":126.5,"y":127},{"x":127.5,"y":125},{"x":128.5,"y":131},{"x":129.5,"y":130},{"x":130.5,"y":128},{"x":131.5,"y":134},{"x":132.5,"y":133},{"x":133.5,"y":131},{"x":134.5,"y":137},{"x":135.5,"y":136},{"x":136.5,"y":134},{"x":137.5,"y":140},{"x":138.5,"y":139},{"x":139.5,"y":137},{"x":140.5,"y":143},{"x":141.5,"y":142},{"x":142.5,"y":140},{"x":143.5,"y":146},{"x":144.5,"y":145},{"x":145.5,"y":143},{"x":146.5,"y":149},{"x":147.5,"y":148},{"x":148.5,"y":146}]
},
"concat": [
{"width": 477, "height": 187, "layer": [
  {"data": {"name": "mpi"}, "mark": {"type": "circle", "size": 32, "color": "black", "opacity": 1, "clip": true},
   "encoding": {"x": {"field": "x", "type": "quantitative", "scale": {"domain": [0,150], "nice": false, "zero": false}, "axis": {"values": [0,10,20,30,40,50,60,70,80,90,100,110,120,130,140,150], "domain": false, "ticks": false, "labels": false, "title": null}},
    "y": {"field": "y", "type": "quantitative", "scale": {"domain": [0,150], "nice": false}, "axis": {"values": [0,10,20,30,40,50,60,70,80,90,100,110,120,130,140,150], "labelExpr": "datum.value % 50 === 0 ? datum.label : ''", "tickSize": {"condition": {"test": "datum.value % 50 === 0", "value": 12}, "value": 7}, "labelPadding": 6, "labelOverlap": false, "title": null}}}},
  {"data": {"name": "diag"}, "mark": {"type": "line", "color": "#ff0000", "strokeWidth": 4, "clip": true},
   "encoding": {"x": {"field": "x", "type": "quantitative", "scale": {"domain": [0,150], "nice": false, "zero": false}, "axis": {"values": [0,10,20,30,40,50,60,70,80,90,100,110,120,130,140,150], "domain": false, "ticks": false, "labels": false, "title": null}},
    "y": {"field": "y", "type": "quantitative", "scale": {"domain": [0,150], "nice": false}, "axis": {"values": [0,10,20,30,40,50,60,70,80,90,100,110,120,130,140,150], "labelExpr": "datum.value % 50 === 0 ? datum.label : ''", "tickSize": {"condition": {"test": "datum.value % 50 === 0", "value": 12}, "value": 7}, "labelPadding": 6, "labelOverlap": false, "title": null}}}},
  {"data": {"values": [{"label": "MPI: 2 μs vs 2.6 μs"}]}, "mark": {"type": "rect", "fill": "white", "stroke": "black", "strokeWidth": 1.5},
   "encoding": {"x": {"datum": 5.7, "type": "quantitative", "scale": {"domain": [0,150], "nice": false, "zero": false}, "axis": {"values": [0,10,20,30,40,50,60,70,80,90,100,110,120,130,140,150], "domain": false, "ticks": false, "labels": false, "title": null}}, "x2": {"datum": 66.4},
    "y": {"datum": 142.8, "type": "quantitative", "scale": {"domain": [0,150], "nice": false}, "axis": {"values": [0,10,20,30,40,50,60,70,80,90,100,110,120,130,140,150], "labelExpr": "datum.value % 50 === 0 ? datum.label : ''", "tickSize": {"condition": {"test": "datum.value % 50 === 0", "value": 12}, "value": 7}, "labelPadding": 6, "labelOverlap": false, "title": null}}, "y2": {"datum": 116.3}}},
  {"data": {"values": [{"label": "MPI: 2 μs vs 2.6 μs"}]}, "mark": {"type": "text", "fontSize": 23, "color": "black"},
   "encoding": {"x": {"datum": 36.05, "type": "quantitative", "scale": {"domain": [0,150], "nice": false, "zero": false}, "axis": {"values": [0,10,20,30,40,50,60,70,80,90,100,110,120,130,140,150], "domain": false, "ticks": false, "labels": false, "title": null}},
    "y": {"datum": 129.55, "type": "quantitative", "scale": {"domain": [0,150], "nice": false}, "axis": {"values": [0,10,20,30,40,50,60,70,80,90,100,110,120,130,140,150], "labelExpr": "datum.value % 50 === 0 ? datum.label : ''", "tickSize": {"condition": {"test": "datum.value % 50 === 0", "value": 12}, "value": 7}, "labelPadding": 6, "labelOverlap": false, "title": null}}, "text": {"field": "label"}}}
]},
{"width": 476, "height": 187, "layer": [
  {"data": {"name": "kit"}, "mark": {"type": "circle", "size": 32, "color": "black", "opacity": 1, "clip": true},
   "encoding": {"x": {"field": "x", "type": "quantitative", "scale": {"domain": [0,150], "nice": false, "zero": false}, "axis": {"values": [0,10,20,30,40,50,60,70,80,90,100,110,120,130,140,150], "domain": false, "ticks": false, "labels": false, "title": null}},
    "y": {"field": "y", "type": "quantitative", "scale": {"domain": [0,150], "nice": false}, "axis": {"values": [0,10,20,30,40,50,60,70,80,90,100,110,120,130,140,150], "labelExpr": "datum.value % 50 === 0 ? datum.label : ''", "tickSize": {"condition": {"test": "datum.value % 50 === 0", "value": 12}, "value": 7}, "labelPadding": 6, "labelOverlap": false, "title": null}}}},
  {"data": {"name": "diag"}, "mark": {"type": "line", "color": "#ff0000", "strokeWidth": 4, "clip": true},
   "encoding": {"x": {"field": "x", "type": "quantitative", "scale": {"domain": [0,150], "nice": false, "zero": false}, "axis": {"values": [0,10,20,30,40,50,60,70,80,90,100,110,120,130,140,150], "domain": false, "ticks": false, "labels": false, "title": null}},
    "y": {"field": "y", "type": "quantitative", "scale": {"domain": [0,150], "nice": false}, "axis": {"values": [0,10,20,30,40,50,60,70,80,90,100,110,120,130,140,150], "labelExpr": "datum.value % 50 === 0 ? datum.label : ''", "tickSize": {"condition": {"test": "datum.value % 50 === 0", "value": 12}, "value": 7}, "labelPadding": 6, "labelOverlap": false, "title": null}}}},
  {"data": {"values": [{"label": "KIT: 2 μs vs 3 μs"}]}, "mark": {"type": "rect", "fill": "white", "stroke": "black", "strokeWidth": 1.5},
   "encoding": {"x": {"datum": 5.0, "type": "quantitative", "scale": {"domain": [0,150], "nice": false, "zero": false}, "axis": {"values": [0,10,20,30,40,50,60,70,80,90,100,110,120,130,140,150], "domain": false, "ticks": false, "labels": false, "title": null}}, "x2": {"datum": 59.9},
    "y": {"datum": 146, "type": "quantitative", "scale": {"domain": [0,150], "nice": false}, "axis": {"values": [0,10,20,30,40,50,60,70,80,90,100,110,120,130,140,150], "labelExpr": "datum.value % 50 === 0 ? datum.label : ''", "tickSize": {"condition": {"test": "datum.value % 50 === 0", "value": 12}, "value": 7}, "labelPadding": 6, "labelOverlap": false, "title": null}}, "y2": {"datum": 118.7}}},
  {"data": {"values": [{"label": "KIT: 2 μs vs 3 μs"}]}, "mark": {"type": "text", "fontSize": 23, "color": "black"},
   "encoding": {"x": {"datum": 32.45, "type": "quantitative", "scale": {"domain": [0,150], "nice": false, "zero": false}, "axis": {"values": [0,10,20,30,40,50,60,70,80,90,100,110,120,130,140,150], "domain": false, "ticks": false, "labels": false, "title": null}},
    "y": {"datum": 132.35, "type": "quantitative", "scale": {"domain": [0,150], "nice": false}, "axis": {"values": [0,10,20,30,40,50,60,70,80,90,100,110,120,130,140,150], "labelExpr": "datum.value % 50 === 0 ? datum.label : ''", "tickSize": {"condition": {"test": "datum.value % 50 === 0", "value": 12}, "value": 7}, "labelPadding": 6, "labelOverlap": false, "title": null}}, "text": {"field": "label"}}}
]},
{"width": 477, "height": 161, "layer": [
  {"data": {"name": "dlr"}, "mark": {"type": "circle", "size": 32, "color": "black", "opacity": 1, "clip": true},
   "encoding": {"x": {"field": "x", "type": "quantitative", "scale": {"domain": [0,150], "nice": false, "zero": false}, "axis": {"values": [0,10,20,30,40,50,60,70,80,90,100,110,120,130,140,150], "domain": false, "ticks": false, "labels": false, "title": null}},
    "y": {"field": "y", "type": "quantitative", "scale": {"domain": [0,150], "nice": false}, "axis": {"values": [0,10,20,30,40,50,60,70,80,90,100,110,120,130,140,150], "labelExpr": "datum.value % 50 === 0 ? datum.label : ''", "tickSize": {"condition": {"test": "datum.value % 50 === 0", "value": 12}, "value": 7}, "labelPadding": 6, "labelOverlap": false, "title": ["BC coating thickness [nm] using the scattering signal", "up to 2 μs before the earliest incandescence"], "titleFontSize": 23.5, "titleY": 64, "titleLineHeight": 21, "titlePadding": 8}}}},
  {"data": {"name": "diag"}, "mark": {"type": "line", "color": "#ff0000", "strokeWidth": 4, "clip": true},
   "encoding": {"x": {"field": "x", "type": "quantitative", "scale": {"domain": [0,150], "nice": false, "zero": false}, "axis": {"values": [0,10,20,30,40,50,60,70,80,90,100,110,120,130,140,150], "domain": false, "ticks": false, "labels": false, "title": null}},
    "y": {"field": "y", "type": "quantitative", "scale": {"domain": [0,150], "nice": false}, "axis": {"values": [0,10,20,30,40,50,60,70,80,90,100,110,120,130,140,150], "labelExpr": "datum.value % 50 === 0 ? datum.label : ''", "tickSize": {"condition": {"test": "datum.value % 50 === 0", "value": 12}, "value": 7}, "labelPadding": 6, "labelOverlap": false, "title": ["BC coating thickness [nm] using the scattering signal", "up to 2 μs before the earliest incandescence"], "titleFontSize": 23.5, "titleY": 64, "titleLineHeight": 21, "titlePadding": 8}}}},
  {"data": {"values": [{"label": "DLR: 2 μs vs 3 μs"}]}, "mark": {"type": "rect", "fill": "white", "stroke": "black", "strokeWidth": 1.5},
   "encoding": {"x": {"datum": 6.0, "type": "quantitative", "scale": {"domain": [0,150], "nice": false, "zero": false}, "axis": {"values": [0,10,20,30,40,50,60,70,80,90,100,110,120,130,140,150], "domain": false, "ticks": false, "labels": false, "title": null}}, "x2": {"datum": 64.2},
    "y": {"datum": 144.4, "type": "quantitative", "scale": {"domain": [0,150], "nice": false}, "axis": {"values": [0,10,20,30,40,50,60,70,80,90,100,110,120,130,140,150], "labelExpr": "datum.value % 50 === 0 ? datum.label : ''", "tickSize": {"condition": {"test": "datum.value % 50 === 0", "value": 12}, "value": 7}, "labelPadding": 6, "labelOverlap": false, "title": ["BC coating thickness [nm] using the scattering signal", "up to 2 μs before the earliest incandescence"], "titleFontSize": 23.5, "titleY": 64, "titleLineHeight": 21, "titlePadding": 8}}, "y2": {"datum": 112.7}}},
  {"data": {"values": [{"label": "DLR: 2 μs vs 3 μs"}]}, "mark": {"type": "text", "fontSize": 23, "color": "black"},
   "encoding": {"x": {"datum": 35.1, "type": "quantitative", "scale": {"domain": [0,150], "nice": false, "zero": false}, "axis": {"values": [0,10,20,30,40,50,60,70,80,90,100,110,120,130,140,150], "domain": false, "ticks": false, "labels": false, "title": null}},
    "y": {"datum": 128.55, "type": "quantitative", "scale": {"domain": [0,150], "nice": false}, "axis": {"values": [0,10,20,30,40,50,60,70,80,90,100,110,120,130,140,150], "labelExpr": "datum.value % 50 === 0 ? datum.label : ''", "tickSize": {"condition": {"test": "datum.value % 50 === 0", "value": 12}, "value": 7}, "labelPadding": 6, "labelOverlap": false, "title": ["BC coating thickness [nm] using the scattering signal", "up to 2 μs before the earliest incandescence"], "titleFontSize": 23.5, "titleY": 64, "titleLineHeight": 21, "titlePadding": 8}}, "text": {"field": "label"}}}
]},
{"width": 476, "height": 161, "layer": [
  {"data": {"name": "psi"}, "mark": {"type": "circle", "size": 32, "color": "black", "opacity": 1, "clip": true},
   "encoding": {"x": {"field": "x", "type": "quantitative", "scale": {"domain": [0,150], "nice": false, "zero": false}, "axis": {"values": [0,10,20,30,40,50,60,70,80,90,100,110,120,130,140,150], "domain": false, "ticks": false, "labels": false, "title": null}},
    "y": {"field": "y", "type": "quantitative", "scale": {"domain": [0,150], "nice": false}, "axis": {"values": [0,10,20,30,40,50,60,70,80,90,100,110,120,130,140,150], "labelExpr": "datum.value % 50 === 0 ? datum.label : ''", "tickSize": {"condition": {"test": "datum.value % 50 === 0", "value": 12}, "value": 7}, "labelPadding": 6, "labelOverlap": false, "title": null}}}},
  {"data": {"name": "diag"}, "mark": {"type": "line", "color": "#ff0000", "strokeWidth": 4, "clip": true},
   "encoding": {"x": {"field": "x", "type": "quantitative", "scale": {"domain": [0,150], "nice": false, "zero": false}, "axis": {"values": [0,10,20,30,40,50,60,70,80,90,100,110,120,130,140,150], "domain": false, "ticks": false, "labels": false, "title": null}},
    "y": {"field": "y", "type": "quantitative", "scale": {"domain": [0,150], "nice": false}, "axis": {"values": [0,10,20,30,40,50,60,70,80,90,100,110,120,130,140,150], "labelExpr": "datum.value % 50 === 0 ? datum.label : ''", "tickSize": {"condition": {"test": "datum.value % 50 === 0", "value": 12}, "value": 7}, "labelPadding": 6, "labelOverlap": false, "title": null}}}},
  {"data": {"values": [{"label": "PSI: 2 μs vs 4.2 μs"}]}, "mark": {"type": "rect", "fill": "white", "stroke": "black", "strokeWidth": 1.5},
   "encoding": {"x": {"datum": 6.0, "type": "quantitative", "scale": {"domain": [0,150], "nice": false, "zero": false}, "axis": {"values": [0,10,20,30,40,50,60,70,80,90,100,110,120,130,140,150], "domain": false, "ticks": false, "labels": false, "title": null}}, "x2": {"datum": 67.4},
    "y": {"datum": 137.9, "type": "quantitative", "scale": {"domain": [0,150], "nice": false}, "axis": {"values": [0,10,20,30,40,50,60,70,80,90,100,110,120,130,140,150], "labelExpr": "datum.value % 50 === 0 ? datum.label : ''", "tickSize": {"condition": {"test": "datum.value % 50 === 0", "value": 12}, "value": 7}, "labelPadding": 6, "labelOverlap": false, "title": null}}, "y2": {"datum": 106.2}}},
  {"data": {"values": [{"label": "PSI: 2 μs vs 4.2 μs"}]}, "mark": {"type": "text", "fontSize": 23, "color": "black"},
   "encoding": {"x": {"datum": 36.7, "type": "quantitative", "scale": {"domain": [0,150], "nice": false, "zero": false}, "axis": {"values": [0,10,20,30,40,50,60,70,80,90,100,110,120,130,140,150], "domain": false, "ticks": false, "labels": false, "title": null}},
    "y": {"datum": 122.05, "type": "quantitative", "scale": {"domain": [0,150], "nice": false}, "axis": {"values": [0,10,20,30,40,50,60,70,80,90,100,110,120,130,140,150], "labelExpr": "datum.value % 50 === 0 ? datum.label : ''", "tickSize": {"condition": {"test": "datum.value % 50 === 0", "value": 12}, "value": 7}, "labelPadding": 6, "labelOverlap": false, "title": null}}, "text": {"field": "label"}}}
]},
{"width": 477, "height": 134, "layer": [
  {"data": {"name": "lgge"}, "mark": {"type": "circle", "size": 32, "color": "black", "opacity": 1, "clip": true},
   "encoding": {"x": {"field": "x", "type": "quantitative", "scale": {"domain": [0,150], "nice": false, "zero": false}, "axis": {"values": [0,10,20,30,40,50,60,70,80,90,100,110,120,130,140,150], "labelExpr": "datum.value % 20 === 0 && datum.value < 150 ? datum.label : ''", "tickSize": {"condition": {"test": "datum.value % 20 === 0 && datum.value < 150", "value": 12}, "value": 7}, "labelPadding": 6, "labelOverlap": false, "labelFlush": false, "title": ["BC coating thickness [nm] using the scattering", "signal up to 1% of the maximal laser intensity"], "titleX": 480, "titleY": 48, "titleLineHeight": 27, "titleAlign": "center", "titleBaseline": "top"}},
    "y": {"field": "y", "type": "quantitative", "scale": {"domain": [0,150], "nice": false}, "axis": {"values": [0,10,20,30,40,50,60,70,80,90,100,110,120,130,140,150], "labelExpr": "datum.value % 50 === 0 ? datum.label : ''", "tickSize": {"condition": {"test": "datum.value % 50 === 0", "value": 12}, "value": 7}, "labelPadding": 6, "labelOverlap": false, "title": null}}}},
  {"data": {"name": "diag"}, "mark": {"type": "line", "color": "#ff0000", "strokeWidth": 4, "clip": true},
   "encoding": {"x": {"field": "x", "type": "quantitative", "scale": {"domain": [0,150], "nice": false, "zero": false}, "axis": {"values": [0,10,20,30,40,50,60,70,80,90,100,110,120,130,140,150], "labelExpr": "datum.value % 20 === 0 && datum.value < 150 ? datum.label : ''", "tickSize": {"condition": {"test": "datum.value % 20 === 0 && datum.value < 150", "value": 12}, "value": 7}, "labelPadding": 6, "labelOverlap": false, "labelFlush": false, "title": ["BC coating thickness [nm] using the scattering", "signal up to 1% of the maximal laser intensity"], "titleX": 480, "titleY": 48, "titleLineHeight": 27, "titleAlign": "center", "titleBaseline": "top"}},
    "y": {"field": "y", "type": "quantitative", "scale": {"domain": [0,150], "nice": false}, "axis": {"values": [0,10,20,30,40,50,60,70,80,90,100,110,120,130,140,150], "labelExpr": "datum.value % 50 === 0 ? datum.label : ''", "tickSize": {"condition": {"test": "datum.value % 50 === 0", "value": 12}, "value": 7}, "labelPadding": 6, "labelOverlap": false, "title": null}}}},
  {"data": {"values": [{"label": "LGGE: 2 μs vs 3 μs"}]}, "mark": {"type": "rect", "fill": "white", "stroke": "black", "strokeWidth": 1.5},
   "encoding": {"x": {"datum": 6.9, "type": "quantitative", "scale": {"domain": [0,150], "nice": false, "zero": false}, "axis": {"values": [0,10,20,30,40,50,60,70,80,90,100,110,120,130,140,150], "labelExpr": "datum.value % 20 === 0 && datum.value < 150 ? datum.label : ''", "tickSize": {"condition": {"test": "datum.value % 20 === 0 && datum.value < 150", "value": 12}, "value": 7}, "labelPadding": 6, "labelOverlap": false, "labelFlush": false, "title": ["BC coating thickness [nm] using the scattering", "signal up to 1% of the maximal laser intensity"], "titleX": 480, "titleY": 48, "titleLineHeight": 27, "titleAlign": "center", "titleBaseline": "top"}}, "x2": {"datum": 70.4},
    "y": {"datum": 142.2, "type": "quantitative", "scale": {"domain": [0,150], "nice": false}, "axis": {"values": [0,10,20,30,40,50,60,70,80,90,100,110,120,130,140,150], "labelExpr": "datum.value % 50 === 0 ? datum.label : ''", "tickSize": {"condition": {"test": "datum.value % 50 === 0", "value": 12}, "value": 7}, "labelPadding": 6, "labelOverlap": false, "title": null}}, "y2": {"datum": 106.3}}},
  {"data": {"values": [{"label": "LGGE: 2 μs vs 3 μs"}]}, "mark": {"type": "text", "fontSize": 23, "color": "black"},
   "encoding": {"x": {"datum": 38.65, "type": "quantitative", "scale": {"domain": [0,150], "nice": false, "zero": false}, "axis": {"values": [0,10,20,30,40,50,60,70,80,90,100,110,120,130,140,150], "labelExpr": "datum.value % 20 === 0 && datum.value < 150 ? datum.label : ''", "tickSize": {"condition": {"test": "datum.value % 20 === 0 && datum.value < 150", "value": 12}, "value": 7}, "labelPadding": 6, "labelOverlap": false, "labelFlush": false, "title": ["BC coating thickness [nm] using the scattering", "signal up to 1% of the maximal laser intensity"], "titleX": 480, "titleY": 48, "titleLineHeight": 27, "titleAlign": "center", "titleBaseline": "top"}},
    "y": {"datum": 124.25, "type": "quantitative", "scale": {"domain": [0,150], "nice": false}, "axis": {"values": [0,10,20,30,40,50,60,70,80,90,100,110,120,130,140,150], "labelExpr": "datum.value % 50 === 0 ? datum.label : ''", "tickSize": {"condition": {"test": "datum.value % 50 === 0", "value": 12}, "value": 7}, "labelPadding": 6, "labelOverlap": false, "title": null}}, "text": {"field": "label"}}}
]},
{"width": 476, "height": 134, "layer": [
  {"data": {"name": "umn"}, "mark": {"type": "circle", "size": 32, "color": "black", "opacity": 1, "clip": true},
   "encoding": {"x": {"field": "x", "type": "quantitative", "scale": {"domain": [0,150], "nice": false, "zero": false}, "axis": {"values": [0,10,20,30,40,50,60,70,80,90,100,110,120,130,140,150], "labelExpr": "datum.value % 20 === 0 && datum.value < 150 ? datum.label : ''", "tickSize": {"condition": {"test": "datum.value % 20 === 0 && datum.value < 150", "value": 12}, "value": 7}, "labelPadding": 6, "labelOverlap": false, "labelFlush": false, "title": null}},
    "y": {"field": "y", "type": "quantitative", "scale": {"domain": [0,150], "nice": false}, "axis": {"values": [0,10,20,30,40,50,60,70,80,90,100,110,120,130,140,150], "labelExpr": "datum.value % 50 === 0 ? datum.label : ''", "tickSize": {"condition": {"test": "datum.value % 50 === 0", "value": 12}, "value": 7}, "labelPadding": 6, "labelOverlap": false, "title": null}}}},
  {"data": {"name": "diag"}, "mark": {"type": "line", "color": "#ff0000", "strokeWidth": 4, "clip": true},
   "encoding": {"x": {"field": "x", "type": "quantitative", "scale": {"domain": [0,150], "nice": false, "zero": false}, "axis": {"values": [0,10,20,30,40,50,60,70,80,90,100,110,120,130,140,150], "labelExpr": "datum.value % 20 === 0 && datum.value < 150 ? datum.label : ''", "tickSize": {"condition": {"test": "datum.value % 20 === 0 && datum.value < 150", "value": 12}, "value": 7}, "labelPadding": 6, "labelOverlap": false, "labelFlush": false, "title": null}},
    "y": {"field": "y", "type": "quantitative", "scale": {"domain": [0,150], "nice": false}, "axis": {"values": [0,10,20,30,40,50,60,70,80,90,100,110,120,130,140,150], "labelExpr": "datum.value % 50 === 0 ? datum.label : ''", "tickSize": {"condition": {"test": "datum.value % 50 === 0", "value": 12}, "value": 7}, "labelPadding": 6, "labelOverlap": false, "title": null}}}},
  {"data": {"values": [{"label": "UMN:  2 μs vs 2.4 μs"}]}, "mark": {"type": "rect", "fill": "white", "stroke": "black", "strokeWidth": 1.5},
   "encoding": {"x": {"datum": 2.8, "type": "quantitative", "scale": {"domain": [0,150], "nice": false, "zero": false}, "axis": {"values": [0,10,20,30,40,50,60,70,80,90,100,110,120,130,140,150], "labelExpr": "datum.value % 20 === 0 && datum.value < 150 ? datum.label : ''", "tickSize": {"condition": {"test": "datum.value % 20 === 0 && datum.value < 150", "value": 12}, "value": 7}, "labelPadding": 6, "labelOverlap": false, "labelFlush": false, "title": null}}, "x2": {"datum": 71.2},
    "y": {"datum": 147.8, "type": "quantitative", "scale": {"domain": [0,150], "nice": false}, "axis": {"values": [0,10,20,30,40,50,60,70,80,90,100,110,120,130,140,150], "labelExpr": "datum.value % 50 === 0 ? datum.label : ''", "tickSize": {"condition": {"test": "datum.value % 50 === 0", "value": 12}, "value": 7}, "labelPadding": 6, "labelOverlap": false, "title": null}}, "y2": {"datum": 110.8}}},
  {"data": {"values": [{"label": "UMN:  2 μs vs 2.4 μs"}]}, "mark": {"type": "text", "fontSize": 23, "color": "black"},
   "encoding": {"x": {"datum": 37, "type": "quantitative", "scale": {"domain": [0,150], "nice": false, "zero": false}, "axis": {"values": [0,10,20,30,40,50,60,70,80,90,100,110,120,130,140,150], "labelExpr": "datum.value % 20 === 0 && datum.value < 150 ? datum.label : ''", "tickSize": {"condition": {"test": "datum.value % 20 === 0 && datum.value < 150", "value": 12}, "value": 7}, "labelPadding": 6, "labelOverlap": false, "labelFlush": false, "title": null}},
    "y": {"datum": 129.3, "type": "quantitative", "scale": {"domain": [0,150], "nice": false}, "axis": {"values": [0,10,20,30,40,50,60,70,80,90,100,110,120,130,140,150], "labelExpr": "datum.value % 50 === 0 ? datum.label : ''", "tickSize": {"condition": {"test": "datum.value % 50 === 0", "value": 12}, "value": 7}, "labelPadding": 6, "labelOverlap": false, "title": null}}, "text": {"field": "label"}}}
]}
],
"config": {
  "font": "Liberation Sans",
  "view": {"stroke": null},
  "axis": {"grid": true, "gridDash": [2,2], "gridColor": "#b4b4b4", "gridWidth": 1, "domainColor": "black", "domainWidth": 1.5, "tickColor": "black", "tickWidth": 1.5, "labelColor": "black", "labelFontSize": 16, "labelFont": "Liberation Sans", "titleFont": "Liberation Sans", "titleFontSize": 22, "titleFontWeight": "normal", "titleColor": "black"}
}
}
